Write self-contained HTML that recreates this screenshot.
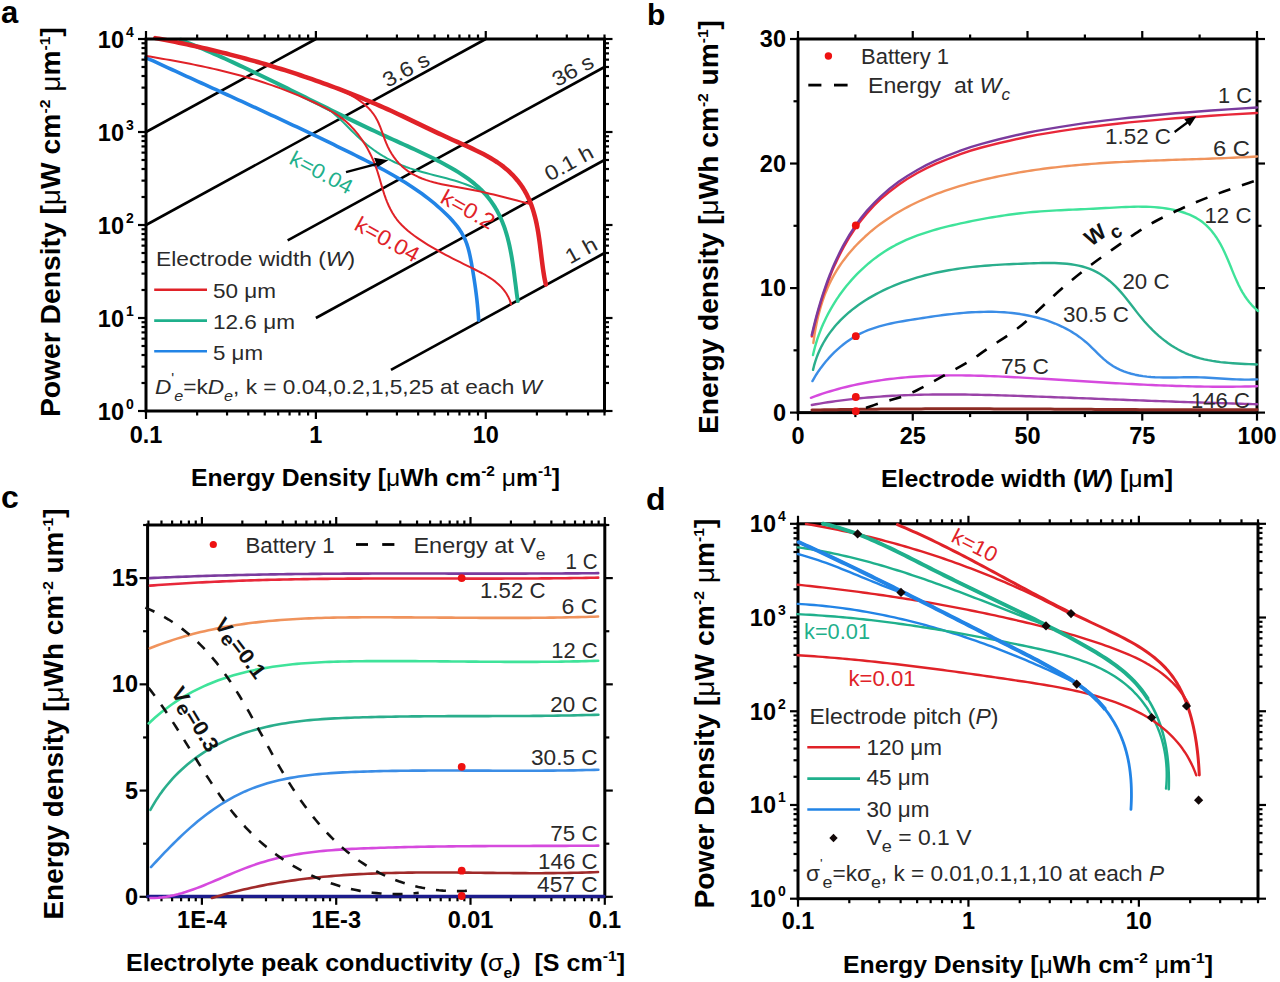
<!DOCTYPE html>
<html><head><meta charset="utf-8"><style>
html,body{margin:0;padding:0;background:#fff;}
svg{display:block;font-family:"Liberation Sans", sans-serif;}
</style></head><body>
<svg width="1280" height="982" viewBox="0 0 1280 982">
<rect width="1280" height="982" fill="#fff"/>
<text x="1.00" y="23.00" font-size="31" font-weight="bold" text-anchor="start" fill="#000"><tspan>a</tspan></text>
<text x="647.00" y="25.00" font-size="30" font-weight="bold" text-anchor="start" fill="#000"><tspan>b</tspan></text>
<text x="1.00" y="507.50" font-size="32" font-weight="bold" text-anchor="start" fill="#000"><tspan>c</tspan></text>
<text x="646.00" y="509.50" font-size="32" font-weight="bold" text-anchor="start" fill="#000"><tspan>d</tspan></text>
<line x1="146.00" y1="132.00" x2="315.88" y2="39.00" stroke="#000" stroke-width="2.6"/>
<line x1="146.00" y1="225.00" x2="485.76" y2="39.00" stroke="#000" stroke-width="2.6"/>
<line x1="287.68" y1="240.44" x2="604.50" y2="67.00" stroke="#000" stroke-width="2.6"/>
<line x1="315.88" y1="318.00" x2="604.50" y2="160.00" stroke="#000" stroke-width="2.6"/>
<line x1="390.97" y1="369.89" x2="604.50" y2="253.00" stroke="#000" stroke-width="2.6"/>
<path d="M145.79,57.56 L149.50,59.28 L153.21,60.99 L156.92,62.70 L160.63,64.40 L164.34,66.11 L168.04,67.81 L171.74,69.50 L175.45,71.20 L179.15,72.89 L182.84,74.58 L186.54,76.27 L190.24,77.95 L193.93,79.64 L197.62,81.32 L201.32,83.00 L205.01,84.68 L208.69,86.36 L212.38,88.04 L216.07,89.72 L219.75,91.40 L223.44,93.08 L227.12,94.76 L230.80,96.44 L234.48,98.12 L238.16,99.80 L241.83,101.49 L245.51,103.17 L249.19,104.86 L252.86,106.54 L256.53,108.23 L260.20,109.92 L263.88,111.62 L267.55,113.31 L271.21,115.01 L274.88,116.71 L278.55,118.42 L282.21,120.12 L285.88,121.83 L289.54,123.55 L293.21,125.27 L296.87,126.99 L300.53,128.72 L304.19,130.45 L307.85,132.18 L311.51,133.92 L315.17,135.67 L318.82,137.42 L322.48,139.17 L326.14,140.94 L329.79,142.70 L333.45,144.48 L337.10,146.26 L340.75,148.04 L344.40,149.83 L348.06,151.63 L351.71,153.44 L355.36,155.25 L359.01,157.08 L362.65,158.91 L366.29,160.76 L369.91,162.62 L373.53,164.50 L377.14,166.40 L380.73,168.32 L384.30,170.27 L387.86,172.24 L391.40,174.24 L394.91,176.27 L398.40,178.33 L401.87,180.43 L405.31,182.56 L408.71,184.73 L412.09,186.94 L415.43,189.19 L418.73,191.49 L422.00,193.83 L425.23,196.22 L428.41,198.66 L431.55,201.16 L434.65,203.71 L437.70,206.31 L440.70,208.98 L443.65,211.71 L446.54,214.50 L449.37,217.35 L452.12,220.28 L454.77,223.31 L457.27,226.43 L459.61,229.66 L461.75,233.01 L463.68,236.50 L465.36,240.13 L466.80,243.90 L468.03,247.79 L469.09,251.75 L470.02,255.78 L470.83,259.85 L471.58,263.92 L472.29,267.98 L472.98,272.02 L473.63,276.04 L474.26,280.04 L474.86,284.04 L475.43,288.03 L475.96,292.02 L476.46,296.01 L476.93,300.01 L477.35,304.01 L477.74,308.03 L478.09,312.07 L478.39,316.12 L478.65,320.21" fill="none" stroke="#2284e6" stroke-width="3.6" stroke-linejoin="round" stroke-linecap="round"/>
<path d="M323.78,106.06 L327.20,108.36 L330.49,110.83 L333.68,113.44 L336.78,116.16 L339.81,118.98 L342.80,121.86 L345.75,124.80 L348.68,127.75 L351.62,130.71 L354.58,133.64 L357.57,136.53 L360.62,139.35 L363.74,142.08 L366.92,144.72 L370.17,147.27 L373.48,149.73 L376.86,152.08 L380.30,154.33 L383.81,156.48 L387.38,158.52 L391.01,160.45 L394.70,162.26 L398.46,163.95 L402.27,165.53 L406.15,166.99 L410.07,168.35 L414.03,169.62 L418.03,170.82 L422.06,171.96 L426.11,173.06 L430.18,174.12 L434.25,175.17 L438.32,176.21 L442.39,177.25 L446.45,178.32 L450.48,179.43 L454.48,180.58 L458.46,181.80 L462.39,183.09 L466.27,184.47 L470.10,185.96 L473.86,187.56 L477.56,189.29 L481.18,191.17 L484.71,193.20 L488.16,195.40" fill="none" stroke="#1fb08c" stroke-width="2" stroke-linejoin="round" stroke-linecap="round"/>
<path d="M180.50,39.70 L184.26,41.21 L188.01,42.74 L191.76,44.28 L195.50,45.84 L199.23,47.41 L202.95,49.00 L206.67,50.60 L210.38,52.22 L214.09,53.84 L217.79,55.48 L221.48,57.14 L225.17,58.80 L228.86,60.48 L232.54,62.16 L236.21,63.86 L239.88,65.57 L243.55,67.28 L247.21,69.01 L250.86,70.74 L254.52,72.48 L258.17,74.23 L261.82,75.98 L265.46,77.74 L269.10,79.51 L272.74,81.28 L276.38,83.05 L280.01,84.83 L283.64,86.62 L287.27,88.41 L290.90,90.20 L294.53,91.99 L298.16,93.78 L301.78,95.58 L305.41,97.38 L309.03,99.18 L312.66,100.97 L316.28,102.77 L319.91,104.57 L323.53,106.36 L327.16,108.15 L330.78,109.94 L334.41,111.73 L338.04,113.51 L341.67,115.29 L345.30,117.06 L348.94,118.83 L352.58,120.60 L356.21,122.36 L359.86,124.11 L363.50,125.85 L367.15,127.59 L370.80,129.32 L374.45,131.04 L378.11,132.75 L381.77,134.45 L385.44,136.15 L389.11,137.83 L392.78,139.50 L396.46,141.17 L400.14,142.83 L403.82,144.50 L407.50,146.17 L411.17,147.84 L414.85,149.53 L418.52,151.24 L422.19,152.96 L425.85,154.71 L429.51,156.49 L433.16,158.29 L436.80,160.13 L440.42,162.01 L444.04,163.93 L447.64,165.89 L451.21,167.91 L454.74,169.99 L458.22,172.12 L461.65,174.32 L465.02,176.60 L468.31,178.95 L471.52,181.38 L474.63,183.90 L477.65,186.51 L480.55,189.22 L483.33,192.03 L485.99,194.95 L488.51,197.98 L490.89,201.12 L493.14,204.35 L495.25,207.69 L497.22,211.12 L499.07,214.64 L500.78,218.24 L502.35,221.92 L503.80,225.68 L505.13,229.50 L506.34,233.37 L507.46,237.30 L508.47,241.27 L509.41,245.27 L510.26,249.29 L511.04,253.34 L511.76,257.39 L512.42,261.46 L513.04,265.52 L513.62,269.57 L514.17,273.62 L514.69,277.64 L515.20,281.64 L515.70,285.61 L516.20,289.55 L516.70,293.44 L517.23,297.28 L517.77,301.06" fill="none" stroke="#1fb08c" stroke-width="4" stroke-linejoin="round" stroke-linecap="round"/>
<path d="M145.89,55.88 L149.92,56.56 L153.94,57.25 L157.95,57.95 L161.96,58.65 L165.97,59.36 L169.98,60.08 L173.98,60.81 L177.98,61.55 L181.97,62.31 L185.96,63.07 L189.95,63.85 L193.93,64.64 L197.91,65.46 L201.88,66.28 L205.84,67.13 L209.80,68.00 L213.76,68.89 L217.71,69.79 L221.65,70.73 L225.59,71.68 L229.52,72.66 L233.44,73.67 L237.36,74.70 L241.27,75.77 L245.17,76.86 L249.07,77.98 L252.96,79.14 L256.84,80.32 L260.71,81.54 L264.57,82.80 L268.43,84.09 L272.28,85.41 L276.11,86.77 L279.94,88.17 L283.75,89.60 L287.55,91.06 L291.34,92.56 L295.11,94.09 L298.87,95.66 L302.61,97.26 L306.33,98.90 L310.04,100.57 L313.73,102.28 L317.40,104.02 L321.05,105.79 L324.67,107.62 L328.24,109.52 L331.75,111.50 L335.18,113.58 L338.52,115.79 L341.76,118.13 L344.89,120.62 L347.89,123.28 L350.77,126.08 L353.52,129.01 L356.16,132.07 L358.68,135.24 L361.09,138.52 L363.38,141.88 L365.56,145.32 L367.62,148.85 L369.55,152.44 L371.37,156.10 L373.06,159.81 L374.62,163.59 L376.05,167.41 L377.36,171.27 L378.57,175.16 L379.73,179.07 L380.86,182.98 L381.98,186.87 L383.15,190.74 L384.38,194.58 L385.71,198.36 L387.16,202.08 L388.74,205.73 L390.47,209.28 L392.36,212.73 L394.44,216.07 L396.72,219.28 L399.21,222.34 L401.91,225.27 L404.80,228.06 L407.85,230.72 L411.03,233.28 L414.31,235.74 L417.66,238.10 L421.05,240.40 L424.48,242.62 L427.94,244.78 L431.42,246.88 L434.93,248.93 L438.46,250.93 L442.02,252.89 L445.60,254.81 L449.20,256.70 L452.82,258.56 L456.46,260.40 L460.12,262.23 L463.79,264.04 L467.47,265.86 L471.17,267.67 L474.87,269.49 L478.54,271.34 L482.17,273.25 L485.72,275.24 L489.17,277.33 L492.49,279.54 L495.65,281.90 L498.63,284.43 L501.40,287.14 L503.93,290.08 L506.20,293.24 L508.18,296.67 L509.84,300.38 L511.16,304.39" fill="none" stroke="#e02228" stroke-width="2" stroke-linejoin="round" stroke-linecap="round"/>
<path d="M321.51,83.13 L325.38,84.44 L329.28,85.81 L333.17,87.26 L337.05,88.78 L340.90,90.39 L344.69,92.11 L348.41,93.93 L352.03,95.86 L355.54,97.93 L358.91,100.13 L362.14,102.48 L365.19,104.99 L368.05,107.65 L370.71,110.50 L373.13,113.53 L375.31,116.75 L377.22,120.17 L378.91,123.77 L380.44,127.49 L381.86,131.31 L383.25,135.17 L384.65,139.05 L386.14,142.89 L387.77,146.65 L389.60,150.30 L391.65,153.80 L393.90,157.16 L396.36,160.35 L399.00,163.35 L401.82,166.16 L404.82,168.76 L407.97,171.14 L411.27,173.29 L414.71,175.22 L418.28,176.96 L421.96,178.52 L425.74,179.91 L429.60,181.16 L433.54,182.28 L437.53,183.30 L441.58,184.21 L445.66,185.05 L449.76,185.84 L453.87,186.58 L457.98,187.29 L462.07,188.00 L466.13,188.72 L470.15,189.47 L474.13,190.24 L478.07,191.05 L481.99,191.89 L485.88,192.76 L489.76,193.66 L493.63,194.58 L497.50,195.52 L501.38,196.49 L505.27,197.48 L509.19,198.48 L513.13,199.51 L517.11,200.55 L521.14,201.60 L525.21,202.67 L529.35,203.75" fill="none" stroke="#e02228" stroke-width="2" stroke-linejoin="round" stroke-linecap="round"/>
<path d="M155.27,38.09 L159.22,38.82 L163.17,39.57 L167.13,40.33 L171.08,41.11 L175.03,41.90 L178.98,42.71 L182.93,43.53 L186.88,44.36 L190.83,45.21 L194.78,46.08 L198.73,46.96 L202.67,47.86 L206.62,48.77 L210.56,49.70 L214.50,50.64 L218.44,51.59 L222.38,52.57 L226.31,53.55 L230.24,54.56 L234.17,55.58 L238.10,56.61 L242.03,57.66 L245.95,58.72 L249.86,59.80 L253.78,60.90 L257.69,62.01 L261.60,63.13 L265.50,64.27 L269.40,65.43 L273.29,66.60 L277.18,67.79 L281.07,69.00 L284.95,70.21 L288.82,71.45 L292.70,72.70 L296.56,73.97 L300.42,75.25 L304.27,76.55 L308.12,77.86 L311.97,79.19 L315.80,80.53 L319.63,81.90 L323.46,83.27 L327.27,84.67 L331.08,86.07 L334.89,87.50 L338.68,88.94 L342.47,90.40 L346.25,91.87 L350.03,93.36 L353.79,94.86 L357.55,96.38 L361.30,97.92 L365.04,99.47 L368.78,101.04 L372.50,102.63 L376.22,104.23 L379.93,105.85 L383.62,107.48 L387.31,109.14 L390.99,110.80 L394.66,112.49 L398.32,114.19 L401.97,115.90 L405.62,117.62 L409.26,119.36 L412.90,121.10 L416.55,122.85 L420.19,124.61 L423.84,126.36 L427.49,128.11 L431.16,129.87 L434.83,131.61 L438.52,133.35 L442.22,135.08 L445.94,136.80 L449.68,138.50 L453.43,140.19 L457.21,141.87 L460.99,143.54 L464.77,145.22 L468.55,146.92 L472.30,148.65 L476.02,150.41 L479.71,152.21 L483.35,154.07 L486.93,155.99 L490.45,157.99 L493.89,160.07 L497.25,162.24 L500.52,164.51 L503.68,166.89 L506.73,169.40 L509.67,172.03 L512.48,174.79 L515.16,177.68 L517.70,180.68 L520.10,183.81 L522.35,187.05 L524.45,190.40 L526.39,193.87 L528.17,197.44 L529.79,201.10 L531.27,204.86 L532.61,208.69 L533.82,212.59 L534.91,216.54 L535.88,220.54 L536.76,224.57 L537.54,228.63 L538.24,232.71 L538.88,236.81 L539.46,240.91 L540.00,245.01 L540.51,249.11 L541.01,253.19 L541.49,257.25 L541.99,261.29 L542.51,265.29 L543.05,269.26 L543.65,273.18 L544.30,277.04 L545.02,280.85 L545.83,284.59" fill="none" stroke="#e02228" stroke-width="4.5" stroke-linejoin="round" stroke-linecap="round"/>
<line x1="346.00" y1="172.10" x2="380.00" y2="163.20" stroke="#000" stroke-width="2.4"/>
<polygon points="388.4,160.2 374.0,157.8 377.6,167.0" fill="#000"/>
<text x="0.00" y="0.00" font-size="21" font-weight="normal" text-anchor="start" fill="#2a2a2a" transform="translate(387.50,88.00) rotate(-28.695450664753416)" textLength="50" lengthAdjust="spacingAndGlyphs"><tspan>3.6 s</tspan></text>
<text x="0.00" y="0.00" font-size="21" font-weight="normal" text-anchor="start" fill="#2a2a2a" transform="translate(556.90,87.30) rotate(-28.695450664753416)" textLength="44" lengthAdjust="spacingAndGlyphs"><tspan>36 s</tspan></text>
<text x="0.00" y="0.00" font-size="21" font-weight="normal" text-anchor="start" fill="#2a2a2a" transform="translate(549.50,181.80) rotate(-28.695450664753416)" textLength="52" lengthAdjust="spacingAndGlyphs"><tspan>0.1 h</tspan></text>
<text x="0.00" y="0.00" font-size="21" font-weight="normal" text-anchor="start" fill="#2a2a2a" transform="translate(570.10,264.50) rotate(-28.695450664753416)" textLength="33" lengthAdjust="spacingAndGlyphs"><tspan>1 h</tspan></text>
<text x="0.00" y="0.00" font-size="21" font-weight="normal" text-anchor="start" fill="#1fb08c" transform="translate(288.00,163.00) rotate(28)" textLength="68" lengthAdjust="spacingAndGlyphs"><tspan>k=0.04</tspan></text>
<text x="0.00" y="0.00" font-size="22" font-weight="normal" text-anchor="start" fill="#e02228" transform="translate(439.00,202.00) rotate(29)" textLength="58" lengthAdjust="spacingAndGlyphs"><tspan>k=0.2</tspan></text>
<text x="0.00" y="0.00" font-size="22" font-weight="normal" text-anchor="start" fill="#e02228" transform="translate(353.00,229.00) rotate(29)" textLength="70" lengthAdjust="spacingAndGlyphs"><tspan>k=0.04</tspan></text>
<text x="156.00" y="266.40" font-size="21" font-weight="normal" text-anchor="start" fill="#2a2a2a" textLength="199" lengthAdjust="spacingAndGlyphs"><tspan>Electrode width (</tspan><tspan font-style="italic">W</tspan><tspan>)</tspan></text>
<line x1="154.20" y1="289.80" x2="207.00" y2="289.80" stroke="#e02228" stroke-width="2.6"/>
<text x="213.00" y="298.10" font-size="21" font-weight="normal" text-anchor="start" fill="#2a2a2a" textLength="63" lengthAdjust="spacingAndGlyphs"><tspan>50 μm</tspan></text>
<line x1="154.20" y1="320.60" x2="207.00" y2="320.60" stroke="#1fb08c" stroke-width="2.6"/>
<text x="213.00" y="328.90" font-size="21" font-weight="normal" text-anchor="start" fill="#2a2a2a" textLength="82" lengthAdjust="spacingAndGlyphs"><tspan>12.6 μm</tspan></text>
<line x1="154.20" y1="351.30" x2="207.00" y2="351.30" stroke="#2284e6" stroke-width="2.6"/>
<text x="213.00" y="359.60" font-size="21" font-weight="normal" text-anchor="start" fill="#2a2a2a" textLength="50" lengthAdjust="spacingAndGlyphs"><tspan>5 μm</tspan></text>
<text x="155.00" y="394.40" font-size="21" font-weight="normal" text-anchor="start" fill="#2a2a2a" textLength="387" lengthAdjust="spacingAndGlyphs"><tspan font-style="italic">D</tspan><tspan dy="-11.00" font-size="14">'</tspan><tspan dy="18.00" font-size="15" font-style="italic">e</tspan><tspan dy="-7.00">=k</tspan><tspan font-style="italic">D</tspan><tspan dy="7.00" font-size="15" font-style="italic">e</tspan><tspan dy="-7.00">, k = 0.04,0.2,1,5,25 at each </tspan><tspan font-style="italic">W</tspan></text>
<line x1="146.00" y1="411.00" x2="146.00" y2="419.00" stroke="#000" stroke-width="2.2"/>
<line x1="146.00" y1="39.00" x2="146.00" y2="31.00" stroke="#000" stroke-width="2.2"/>
<line x1="315.88" y1="411.00" x2="315.88" y2="419.00" stroke="#000" stroke-width="2.2"/>
<line x1="315.88" y1="39.00" x2="315.88" y2="31.00" stroke="#000" stroke-width="2.2"/>
<line x1="485.76" y1="411.00" x2="485.76" y2="419.00" stroke="#000" stroke-width="2.2"/>
<line x1="485.76" y1="39.00" x2="485.76" y2="31.00" stroke="#000" stroke-width="2.2"/>
<line x1="197.14" y1="411.00" x2="197.14" y2="415.50" stroke="#000" stroke-width="2.2"/>
<line x1="197.14" y1="39.00" x2="197.14" y2="34.50" stroke="#000" stroke-width="2.2"/>
<line x1="227.05" y1="411.00" x2="227.05" y2="415.50" stroke="#000" stroke-width="2.2"/>
<line x1="227.05" y1="39.00" x2="227.05" y2="34.50" stroke="#000" stroke-width="2.2"/>
<line x1="248.28" y1="411.00" x2="248.28" y2="415.50" stroke="#000" stroke-width="2.2"/>
<line x1="248.28" y1="39.00" x2="248.28" y2="34.50" stroke="#000" stroke-width="2.2"/>
<line x1="264.74" y1="411.00" x2="264.74" y2="415.50" stroke="#000" stroke-width="2.2"/>
<line x1="264.74" y1="39.00" x2="264.74" y2="34.50" stroke="#000" stroke-width="2.2"/>
<line x1="278.19" y1="411.00" x2="278.19" y2="415.50" stroke="#000" stroke-width="2.2"/>
<line x1="278.19" y1="39.00" x2="278.19" y2="34.50" stroke="#000" stroke-width="2.2"/>
<line x1="289.56" y1="411.00" x2="289.56" y2="415.50" stroke="#000" stroke-width="2.2"/>
<line x1="289.56" y1="39.00" x2="289.56" y2="34.50" stroke="#000" stroke-width="2.2"/>
<line x1="299.42" y1="411.00" x2="299.42" y2="415.50" stroke="#000" stroke-width="2.2"/>
<line x1="299.42" y1="39.00" x2="299.42" y2="34.50" stroke="#000" stroke-width="2.2"/>
<line x1="308.11" y1="411.00" x2="308.11" y2="415.50" stroke="#000" stroke-width="2.2"/>
<line x1="308.11" y1="39.00" x2="308.11" y2="34.50" stroke="#000" stroke-width="2.2"/>
<line x1="367.02" y1="411.00" x2="367.02" y2="415.50" stroke="#000" stroke-width="2.2"/>
<line x1="367.02" y1="39.00" x2="367.02" y2="34.50" stroke="#000" stroke-width="2.2"/>
<line x1="396.93" y1="411.00" x2="396.93" y2="415.50" stroke="#000" stroke-width="2.2"/>
<line x1="396.93" y1="39.00" x2="396.93" y2="34.50" stroke="#000" stroke-width="2.2"/>
<line x1="418.16" y1="411.00" x2="418.16" y2="415.50" stroke="#000" stroke-width="2.2"/>
<line x1="418.16" y1="39.00" x2="418.16" y2="34.50" stroke="#000" stroke-width="2.2"/>
<line x1="434.62" y1="411.00" x2="434.62" y2="415.50" stroke="#000" stroke-width="2.2"/>
<line x1="434.62" y1="39.00" x2="434.62" y2="34.50" stroke="#000" stroke-width="2.2"/>
<line x1="448.07" y1="411.00" x2="448.07" y2="415.50" stroke="#000" stroke-width="2.2"/>
<line x1="448.07" y1="39.00" x2="448.07" y2="34.50" stroke="#000" stroke-width="2.2"/>
<line x1="459.44" y1="411.00" x2="459.44" y2="415.50" stroke="#000" stroke-width="2.2"/>
<line x1="459.44" y1="39.00" x2="459.44" y2="34.50" stroke="#000" stroke-width="2.2"/>
<line x1="469.30" y1="411.00" x2="469.30" y2="415.50" stroke="#000" stroke-width="2.2"/>
<line x1="469.30" y1="39.00" x2="469.30" y2="34.50" stroke="#000" stroke-width="2.2"/>
<line x1="477.99" y1="411.00" x2="477.99" y2="415.50" stroke="#000" stroke-width="2.2"/>
<line x1="477.99" y1="39.00" x2="477.99" y2="34.50" stroke="#000" stroke-width="2.2"/>
<line x1="536.90" y1="411.00" x2="536.90" y2="415.50" stroke="#000" stroke-width="2.2"/>
<line x1="536.90" y1="39.00" x2="536.90" y2="34.50" stroke="#000" stroke-width="2.2"/>
<line x1="566.81" y1="411.00" x2="566.81" y2="415.50" stroke="#000" stroke-width="2.2"/>
<line x1="566.81" y1="39.00" x2="566.81" y2="34.50" stroke="#000" stroke-width="2.2"/>
<line x1="588.04" y1="411.00" x2="588.04" y2="415.50" stroke="#000" stroke-width="2.2"/>
<line x1="588.04" y1="39.00" x2="588.04" y2="34.50" stroke="#000" stroke-width="2.2"/>
<line x1="604.50" y1="411.00" x2="604.50" y2="415.50" stroke="#000" stroke-width="2.2"/>
<line x1="604.50" y1="39.00" x2="604.50" y2="34.50" stroke="#000" stroke-width="2.2"/>
<line x1="146.00" y1="411.00" x2="138.00" y2="411.00" stroke="#000" stroke-width="2.2"/>
<line x1="604.50" y1="411.00" x2="612.50" y2="411.00" stroke="#000" stroke-width="2.2"/>
<line x1="146.00" y1="318.00" x2="138.00" y2="318.00" stroke="#000" stroke-width="2.2"/>
<line x1="604.50" y1="318.00" x2="612.50" y2="318.00" stroke="#000" stroke-width="2.2"/>
<line x1="146.00" y1="225.00" x2="138.00" y2="225.00" stroke="#000" stroke-width="2.2"/>
<line x1="604.50" y1="225.00" x2="612.50" y2="225.00" stroke="#000" stroke-width="2.2"/>
<line x1="146.00" y1="132.00" x2="138.00" y2="132.00" stroke="#000" stroke-width="2.2"/>
<line x1="604.50" y1="132.00" x2="612.50" y2="132.00" stroke="#000" stroke-width="2.2"/>
<line x1="146.00" y1="39.00" x2="138.00" y2="39.00" stroke="#000" stroke-width="2.2"/>
<line x1="604.50" y1="39.00" x2="612.50" y2="39.00" stroke="#000" stroke-width="2.2"/>
<line x1="146.00" y1="383.00" x2="141.50" y2="383.00" stroke="#000" stroke-width="2.2"/>
<line x1="604.50" y1="383.00" x2="609.00" y2="383.00" stroke="#000" stroke-width="2.2"/>
<line x1="146.00" y1="366.63" x2="141.50" y2="366.63" stroke="#000" stroke-width="2.2"/>
<line x1="604.50" y1="366.63" x2="609.00" y2="366.63" stroke="#000" stroke-width="2.2"/>
<line x1="146.00" y1="355.01" x2="141.50" y2="355.01" stroke="#000" stroke-width="2.2"/>
<line x1="604.50" y1="355.01" x2="609.00" y2="355.01" stroke="#000" stroke-width="2.2"/>
<line x1="146.00" y1="346.00" x2="141.50" y2="346.00" stroke="#000" stroke-width="2.2"/>
<line x1="604.50" y1="346.00" x2="609.00" y2="346.00" stroke="#000" stroke-width="2.2"/>
<line x1="146.00" y1="338.63" x2="141.50" y2="338.63" stroke="#000" stroke-width="2.2"/>
<line x1="604.50" y1="338.63" x2="609.00" y2="338.63" stroke="#000" stroke-width="2.2"/>
<line x1="146.00" y1="332.41" x2="141.50" y2="332.41" stroke="#000" stroke-width="2.2"/>
<line x1="604.50" y1="332.41" x2="609.00" y2="332.41" stroke="#000" stroke-width="2.2"/>
<line x1="146.00" y1="327.01" x2="141.50" y2="327.01" stroke="#000" stroke-width="2.2"/>
<line x1="604.50" y1="327.01" x2="609.00" y2="327.01" stroke="#000" stroke-width="2.2"/>
<line x1="146.00" y1="322.26" x2="141.50" y2="322.26" stroke="#000" stroke-width="2.2"/>
<line x1="604.50" y1="322.26" x2="609.00" y2="322.26" stroke="#000" stroke-width="2.2"/>
<line x1="146.00" y1="290.00" x2="141.50" y2="290.00" stroke="#000" stroke-width="2.2"/>
<line x1="604.50" y1="290.00" x2="609.00" y2="290.00" stroke="#000" stroke-width="2.2"/>
<line x1="146.00" y1="273.63" x2="141.50" y2="273.63" stroke="#000" stroke-width="2.2"/>
<line x1="604.50" y1="273.63" x2="609.00" y2="273.63" stroke="#000" stroke-width="2.2"/>
<line x1="146.00" y1="262.01" x2="141.50" y2="262.01" stroke="#000" stroke-width="2.2"/>
<line x1="604.50" y1="262.01" x2="609.00" y2="262.01" stroke="#000" stroke-width="2.2"/>
<line x1="146.00" y1="253.00" x2="141.50" y2="253.00" stroke="#000" stroke-width="2.2"/>
<line x1="604.50" y1="253.00" x2="609.00" y2="253.00" stroke="#000" stroke-width="2.2"/>
<line x1="146.00" y1="245.63" x2="141.50" y2="245.63" stroke="#000" stroke-width="2.2"/>
<line x1="604.50" y1="245.63" x2="609.00" y2="245.63" stroke="#000" stroke-width="2.2"/>
<line x1="146.00" y1="239.41" x2="141.50" y2="239.41" stroke="#000" stroke-width="2.2"/>
<line x1="604.50" y1="239.41" x2="609.00" y2="239.41" stroke="#000" stroke-width="2.2"/>
<line x1="146.00" y1="234.01" x2="141.50" y2="234.01" stroke="#000" stroke-width="2.2"/>
<line x1="604.50" y1="234.01" x2="609.00" y2="234.01" stroke="#000" stroke-width="2.2"/>
<line x1="146.00" y1="229.26" x2="141.50" y2="229.26" stroke="#000" stroke-width="2.2"/>
<line x1="604.50" y1="229.26" x2="609.00" y2="229.26" stroke="#000" stroke-width="2.2"/>
<line x1="146.00" y1="197.00" x2="141.50" y2="197.00" stroke="#000" stroke-width="2.2"/>
<line x1="604.50" y1="197.00" x2="609.00" y2="197.00" stroke="#000" stroke-width="2.2"/>
<line x1="146.00" y1="180.63" x2="141.50" y2="180.63" stroke="#000" stroke-width="2.2"/>
<line x1="604.50" y1="180.63" x2="609.00" y2="180.63" stroke="#000" stroke-width="2.2"/>
<line x1="146.00" y1="169.01" x2="141.50" y2="169.01" stroke="#000" stroke-width="2.2"/>
<line x1="604.50" y1="169.01" x2="609.00" y2="169.01" stroke="#000" stroke-width="2.2"/>
<line x1="146.00" y1="160.00" x2="141.50" y2="160.00" stroke="#000" stroke-width="2.2"/>
<line x1="604.50" y1="160.00" x2="609.00" y2="160.00" stroke="#000" stroke-width="2.2"/>
<line x1="146.00" y1="152.63" x2="141.50" y2="152.63" stroke="#000" stroke-width="2.2"/>
<line x1="604.50" y1="152.63" x2="609.00" y2="152.63" stroke="#000" stroke-width="2.2"/>
<line x1="146.00" y1="146.41" x2="141.50" y2="146.41" stroke="#000" stroke-width="2.2"/>
<line x1="604.50" y1="146.41" x2="609.00" y2="146.41" stroke="#000" stroke-width="2.2"/>
<line x1="146.00" y1="141.01" x2="141.50" y2="141.01" stroke="#000" stroke-width="2.2"/>
<line x1="604.50" y1="141.01" x2="609.00" y2="141.01" stroke="#000" stroke-width="2.2"/>
<line x1="146.00" y1="136.26" x2="141.50" y2="136.26" stroke="#000" stroke-width="2.2"/>
<line x1="604.50" y1="136.26" x2="609.00" y2="136.26" stroke="#000" stroke-width="2.2"/>
<line x1="146.00" y1="104.00" x2="141.50" y2="104.00" stroke="#000" stroke-width="2.2"/>
<line x1="604.50" y1="104.00" x2="609.00" y2="104.00" stroke="#000" stroke-width="2.2"/>
<line x1="146.00" y1="87.63" x2="141.50" y2="87.63" stroke="#000" stroke-width="2.2"/>
<line x1="604.50" y1="87.63" x2="609.00" y2="87.63" stroke="#000" stroke-width="2.2"/>
<line x1="146.00" y1="76.01" x2="141.50" y2="76.01" stroke="#000" stroke-width="2.2"/>
<line x1="604.50" y1="76.01" x2="609.00" y2="76.01" stroke="#000" stroke-width="2.2"/>
<line x1="146.00" y1="67.00" x2="141.50" y2="67.00" stroke="#000" stroke-width="2.2"/>
<line x1="604.50" y1="67.00" x2="609.00" y2="67.00" stroke="#000" stroke-width="2.2"/>
<line x1="146.00" y1="59.63" x2="141.50" y2="59.63" stroke="#000" stroke-width="2.2"/>
<line x1="604.50" y1="59.63" x2="609.00" y2="59.63" stroke="#000" stroke-width="2.2"/>
<line x1="146.00" y1="53.41" x2="141.50" y2="53.41" stroke="#000" stroke-width="2.2"/>
<line x1="604.50" y1="53.41" x2="609.00" y2="53.41" stroke="#000" stroke-width="2.2"/>
<line x1="146.00" y1="48.01" x2="141.50" y2="48.01" stroke="#000" stroke-width="2.2"/>
<line x1="604.50" y1="48.01" x2="609.00" y2="48.01" stroke="#000" stroke-width="2.2"/>
<line x1="146.00" y1="43.26" x2="141.50" y2="43.26" stroke="#000" stroke-width="2.2"/>
<line x1="604.50" y1="43.26" x2="609.00" y2="43.26" stroke="#000" stroke-width="2.2"/>
<rect x="146.00" y="39.00" width="458.50" height="372.00" fill="none" stroke="#000" stroke-width="3.0"/>
<text x="124.00" y="419.50" font-size="23.5" font-weight="bold" text-anchor="end" fill="#000"><tspan>10</tspan></text>
<text x="126.00" y="408.50" font-size="14" font-weight="bold" text-anchor="start" fill="#000"><tspan>0</tspan></text>
<text x="124.00" y="326.50" font-size="23.5" font-weight="bold" text-anchor="end" fill="#000"><tspan>10</tspan></text>
<text x="126.00" y="315.50" font-size="14" font-weight="bold" text-anchor="start" fill="#000"><tspan>1</tspan></text>
<text x="124.00" y="233.50" font-size="23.5" font-weight="bold" text-anchor="end" fill="#000"><tspan>10</tspan></text>
<text x="126.00" y="222.50" font-size="14" font-weight="bold" text-anchor="start" fill="#000"><tspan>2</tspan></text>
<text x="124.00" y="140.50" font-size="23.5" font-weight="bold" text-anchor="end" fill="#000"><tspan>10</tspan></text>
<text x="126.00" y="129.50" font-size="14" font-weight="bold" text-anchor="start" fill="#000"><tspan>3</tspan></text>
<text x="124.00" y="47.50" font-size="23.5" font-weight="bold" text-anchor="end" fill="#000"><tspan>10</tspan></text>
<text x="126.00" y="36.50" font-size="14" font-weight="bold" text-anchor="start" fill="#000"><tspan>4</tspan></text>
<text x="146.00" y="442.50" font-size="23.5" font-weight="bold" text-anchor="middle" fill="#000"><tspan>0.1</tspan></text>
<text x="315.88" y="442.50" font-size="23.5" font-weight="bold" text-anchor="middle" fill="#000"><tspan>1</tspan></text>
<text x="485.76" y="442.50" font-size="23.5" font-weight="bold" text-anchor="middle" fill="#000"><tspan>10</tspan></text>
<text x="191.00" y="486.30" font-size="24" font-weight="bold" text-anchor="start" fill="#000" textLength="369" lengthAdjust="spacingAndGlyphs"><tspan>Energy Density [</tspan><tspan font-weight="normal">μ</tspan><tspan>Wh cm</tspan><tspan dy="-10.00" font-size="15">-2</tspan><tspan dy="10.00"> </tspan><tspan font-weight="normal">μ</tspan><tspan>m</tspan><tspan dy="-10.00" font-size="15">-1</tspan><tspan dy="10.00">]</tspan></text>
<text x="0.00" y="0.00" font-size="27" font-weight="bold" text-anchor="middle" fill="#000" transform="translate(60.00,222.00) rotate(-90)" textLength="390" lengthAdjust="spacingAndGlyphs"><tspan>Power Density [</tspan><tspan font-weight="normal">μ</tspan><tspan>W cm</tspan><tspan dy="-10.00" font-size="15">-2</tspan><tspan dy="10.00"> </tspan><tspan font-weight="normal">μ</tspan><tspan>m</tspan><tspan dy="-10.00" font-size="15">-1</tspan><tspan dy="10.00">]</tspan></text>
<line x1="798.00" y1="412.60" x2="798.00" y2="420.60" stroke="#000" stroke-width="2.2"/>
<line x1="798.00" y1="39.00" x2="798.00" y2="31.00" stroke="#000" stroke-width="2.2"/>
<line x1="912.75" y1="412.60" x2="912.75" y2="420.60" stroke="#000" stroke-width="2.2"/>
<line x1="912.75" y1="39.00" x2="912.75" y2="31.00" stroke="#000" stroke-width="2.2"/>
<line x1="1027.50" y1="412.60" x2="1027.50" y2="420.60" stroke="#000" stroke-width="2.2"/>
<line x1="1027.50" y1="39.00" x2="1027.50" y2="31.00" stroke="#000" stroke-width="2.2"/>
<line x1="1142.25" y1="412.60" x2="1142.25" y2="420.60" stroke="#000" stroke-width="2.2"/>
<line x1="1142.25" y1="39.00" x2="1142.25" y2="31.00" stroke="#000" stroke-width="2.2"/>
<line x1="1257.00" y1="412.60" x2="1257.00" y2="420.60" stroke="#000" stroke-width="2.2"/>
<line x1="1257.00" y1="39.00" x2="1257.00" y2="31.00" stroke="#000" stroke-width="2.2"/>
<line x1="855.38" y1="412.60" x2="855.38" y2="417.10" stroke="#000" stroke-width="2.2"/>
<line x1="855.38" y1="39.00" x2="855.38" y2="34.50" stroke="#000" stroke-width="2.2"/>
<line x1="970.12" y1="412.60" x2="970.12" y2="417.10" stroke="#000" stroke-width="2.2"/>
<line x1="970.12" y1="39.00" x2="970.12" y2="34.50" stroke="#000" stroke-width="2.2"/>
<line x1="1084.88" y1="412.60" x2="1084.88" y2="417.10" stroke="#000" stroke-width="2.2"/>
<line x1="1084.88" y1="39.00" x2="1084.88" y2="34.50" stroke="#000" stroke-width="2.2"/>
<line x1="1199.62" y1="412.60" x2="1199.62" y2="417.10" stroke="#000" stroke-width="2.2"/>
<line x1="1199.62" y1="39.00" x2="1199.62" y2="34.50" stroke="#000" stroke-width="2.2"/>
<line x1="798.00" y1="412.60" x2="790.00" y2="412.60" stroke="#000" stroke-width="2.2"/>
<line x1="1257.00" y1="412.60" x2="1265.00" y2="412.60" stroke="#000" stroke-width="2.2"/>
<line x1="798.00" y1="288.07" x2="790.00" y2="288.07" stroke="#000" stroke-width="2.2"/>
<line x1="1257.00" y1="288.07" x2="1265.00" y2="288.07" stroke="#000" stroke-width="2.2"/>
<line x1="798.00" y1="163.53" x2="790.00" y2="163.53" stroke="#000" stroke-width="2.2"/>
<line x1="1257.00" y1="163.53" x2="1265.00" y2="163.53" stroke="#000" stroke-width="2.2"/>
<line x1="798.00" y1="39.00" x2="790.00" y2="39.00" stroke="#000" stroke-width="2.2"/>
<line x1="1257.00" y1="39.00" x2="1265.00" y2="39.00" stroke="#000" stroke-width="2.2"/>
<line x1="798.00" y1="350.33" x2="793.50" y2="350.33" stroke="#000" stroke-width="2.2"/>
<line x1="1257.00" y1="350.33" x2="1261.50" y2="350.33" stroke="#000" stroke-width="2.2"/>
<line x1="798.00" y1="225.80" x2="793.50" y2="225.80" stroke="#000" stroke-width="2.2"/>
<line x1="1257.00" y1="225.80" x2="1261.50" y2="225.80" stroke="#000" stroke-width="2.2"/>
<line x1="798.00" y1="101.27" x2="793.50" y2="101.27" stroke="#000" stroke-width="2.2"/>
<line x1="1257.00" y1="101.27" x2="1261.50" y2="101.27" stroke="#000" stroke-width="2.2"/>
<rect x="798.00" y="39.00" width="459.00" height="373.60" fill="none" stroke="#000" stroke-width="3.0"/>
<text x="786.00" y="420.60" font-size="23.5" font-weight="bold" text-anchor="end" fill="#000"><tspan>0</tspan></text>
<text x="786.00" y="296.07" font-size="23.5" font-weight="bold" text-anchor="end" fill="#000"><tspan>10</tspan></text>
<text x="786.00" y="171.53" font-size="23.5" font-weight="bold" text-anchor="end" fill="#000"><tspan>20</tspan></text>
<text x="786.00" y="47.00" font-size="23.5" font-weight="bold" text-anchor="end" fill="#000"><tspan>30</tspan></text>
<text x="798.00" y="443.60" font-size="23.5" font-weight="bold" text-anchor="middle" fill="#000"><tspan>0</tspan></text>
<text x="912.75" y="443.60" font-size="23.5" font-weight="bold" text-anchor="middle" fill="#000"><tspan>25</tspan></text>
<text x="1027.50" y="443.60" font-size="23.5" font-weight="bold" text-anchor="middle" fill="#000"><tspan>50</tspan></text>
<text x="1142.25" y="443.60" font-size="23.5" font-weight="bold" text-anchor="middle" fill="#000"><tspan>75</tspan></text>
<text x="1257.00" y="443.60" font-size="23.5" font-weight="bold" text-anchor="middle" fill="#000"><tspan>100</tspan></text>
<text x="881.00" y="487.30" font-size="24" font-weight="bold" text-anchor="start" fill="#000" textLength="292" lengthAdjust="spacingAndGlyphs"><tspan>Electrode width (</tspan><tspan font-style="italic">W</tspan><tspan>) [</tspan><tspan font-weight="normal">μ</tspan><tspan>m]</tspan></text>
<text x="0.00" y="0.00" font-size="27" font-weight="bold" text-anchor="middle" fill="#000" transform="translate(718.00,227.00) rotate(-90)" textLength="414" lengthAdjust="spacingAndGlyphs"><tspan>Energy density [</tspan><tspan font-weight="normal">μ</tspan><tspan>Wh cm</tspan><tspan dy="-10.00" font-size="15">-2</tspan><tspan dy="10.00"> um</tspan><tspan dy="-10.00" font-size="15">-1</tspan><tspan dy="10.00">]</tspan></text>
<line x1="201.90" y1="896.80" x2="201.90" y2="904.80" stroke="#000" stroke-width="2.2"/>
<line x1="201.90" y1="525.00" x2="201.90" y2="517.00" stroke="#000" stroke-width="2.2"/>
<line x1="336.20" y1="896.80" x2="336.20" y2="904.80" stroke="#000" stroke-width="2.2"/>
<line x1="336.20" y1="525.00" x2="336.20" y2="517.00" stroke="#000" stroke-width="2.2"/>
<line x1="470.50" y1="896.80" x2="470.50" y2="904.80" stroke="#000" stroke-width="2.2"/>
<line x1="470.50" y1="525.00" x2="470.50" y2="517.00" stroke="#000" stroke-width="2.2"/>
<line x1="604.80" y1="896.80" x2="604.80" y2="904.80" stroke="#000" stroke-width="2.2"/>
<line x1="604.80" y1="525.00" x2="604.80" y2="517.00" stroke="#000" stroke-width="2.2"/>
<line x1="148.46" y1="896.80" x2="148.46" y2="901.30" stroke="#000" stroke-width="2.2"/>
<line x1="148.46" y1="525.00" x2="148.46" y2="520.50" stroke="#000" stroke-width="2.2"/>
<line x1="161.47" y1="896.80" x2="161.47" y2="901.30" stroke="#000" stroke-width="2.2"/>
<line x1="161.47" y1="525.00" x2="161.47" y2="520.50" stroke="#000" stroke-width="2.2"/>
<line x1="172.11" y1="896.80" x2="172.11" y2="901.30" stroke="#000" stroke-width="2.2"/>
<line x1="172.11" y1="525.00" x2="172.11" y2="520.50" stroke="#000" stroke-width="2.2"/>
<line x1="181.10" y1="896.80" x2="181.10" y2="901.30" stroke="#000" stroke-width="2.2"/>
<line x1="181.10" y1="525.00" x2="181.10" y2="520.50" stroke="#000" stroke-width="2.2"/>
<line x1="188.88" y1="896.80" x2="188.88" y2="901.30" stroke="#000" stroke-width="2.2"/>
<line x1="188.88" y1="525.00" x2="188.88" y2="520.50" stroke="#000" stroke-width="2.2"/>
<line x1="195.75" y1="896.80" x2="195.75" y2="901.30" stroke="#000" stroke-width="2.2"/>
<line x1="195.75" y1="525.00" x2="195.75" y2="520.50" stroke="#000" stroke-width="2.2"/>
<line x1="242.33" y1="896.80" x2="242.33" y2="901.30" stroke="#000" stroke-width="2.2"/>
<line x1="242.33" y1="525.00" x2="242.33" y2="520.50" stroke="#000" stroke-width="2.2"/>
<line x1="265.98" y1="896.80" x2="265.98" y2="901.30" stroke="#000" stroke-width="2.2"/>
<line x1="265.98" y1="525.00" x2="265.98" y2="520.50" stroke="#000" stroke-width="2.2"/>
<line x1="282.76" y1="896.80" x2="282.76" y2="901.30" stroke="#000" stroke-width="2.2"/>
<line x1="282.76" y1="525.00" x2="282.76" y2="520.50" stroke="#000" stroke-width="2.2"/>
<line x1="295.77" y1="896.80" x2="295.77" y2="901.30" stroke="#000" stroke-width="2.2"/>
<line x1="295.77" y1="525.00" x2="295.77" y2="520.50" stroke="#000" stroke-width="2.2"/>
<line x1="306.41" y1="896.80" x2="306.41" y2="901.30" stroke="#000" stroke-width="2.2"/>
<line x1="306.41" y1="525.00" x2="306.41" y2="520.50" stroke="#000" stroke-width="2.2"/>
<line x1="315.40" y1="896.80" x2="315.40" y2="901.30" stroke="#000" stroke-width="2.2"/>
<line x1="315.40" y1="525.00" x2="315.40" y2="520.50" stroke="#000" stroke-width="2.2"/>
<line x1="323.18" y1="896.80" x2="323.18" y2="901.30" stroke="#000" stroke-width="2.2"/>
<line x1="323.18" y1="525.00" x2="323.18" y2="520.50" stroke="#000" stroke-width="2.2"/>
<line x1="330.05" y1="896.80" x2="330.05" y2="901.30" stroke="#000" stroke-width="2.2"/>
<line x1="330.05" y1="525.00" x2="330.05" y2="520.50" stroke="#000" stroke-width="2.2"/>
<line x1="376.63" y1="896.80" x2="376.63" y2="901.30" stroke="#000" stroke-width="2.2"/>
<line x1="376.63" y1="525.00" x2="376.63" y2="520.50" stroke="#000" stroke-width="2.2"/>
<line x1="400.28" y1="896.80" x2="400.28" y2="901.30" stroke="#000" stroke-width="2.2"/>
<line x1="400.28" y1="525.00" x2="400.28" y2="520.50" stroke="#000" stroke-width="2.2"/>
<line x1="417.06" y1="896.80" x2="417.06" y2="901.30" stroke="#000" stroke-width="2.2"/>
<line x1="417.06" y1="525.00" x2="417.06" y2="520.50" stroke="#000" stroke-width="2.2"/>
<line x1="430.07" y1="896.80" x2="430.07" y2="901.30" stroke="#000" stroke-width="2.2"/>
<line x1="430.07" y1="525.00" x2="430.07" y2="520.50" stroke="#000" stroke-width="2.2"/>
<line x1="440.71" y1="896.80" x2="440.71" y2="901.30" stroke="#000" stroke-width="2.2"/>
<line x1="440.71" y1="525.00" x2="440.71" y2="520.50" stroke="#000" stroke-width="2.2"/>
<line x1="449.70" y1="896.80" x2="449.70" y2="901.30" stroke="#000" stroke-width="2.2"/>
<line x1="449.70" y1="525.00" x2="449.70" y2="520.50" stroke="#000" stroke-width="2.2"/>
<line x1="457.48" y1="896.80" x2="457.48" y2="901.30" stroke="#000" stroke-width="2.2"/>
<line x1="457.48" y1="525.00" x2="457.48" y2="520.50" stroke="#000" stroke-width="2.2"/>
<line x1="464.35" y1="896.80" x2="464.35" y2="901.30" stroke="#000" stroke-width="2.2"/>
<line x1="464.35" y1="525.00" x2="464.35" y2="520.50" stroke="#000" stroke-width="2.2"/>
<line x1="510.93" y1="896.80" x2="510.93" y2="901.30" stroke="#000" stroke-width="2.2"/>
<line x1="510.93" y1="525.00" x2="510.93" y2="520.50" stroke="#000" stroke-width="2.2"/>
<line x1="534.58" y1="896.80" x2="534.58" y2="901.30" stroke="#000" stroke-width="2.2"/>
<line x1="534.58" y1="525.00" x2="534.58" y2="520.50" stroke="#000" stroke-width="2.2"/>
<line x1="551.36" y1="896.80" x2="551.36" y2="901.30" stroke="#000" stroke-width="2.2"/>
<line x1="551.36" y1="525.00" x2="551.36" y2="520.50" stroke="#000" stroke-width="2.2"/>
<line x1="564.37" y1="896.80" x2="564.37" y2="901.30" stroke="#000" stroke-width="2.2"/>
<line x1="564.37" y1="525.00" x2="564.37" y2="520.50" stroke="#000" stroke-width="2.2"/>
<line x1="575.01" y1="896.80" x2="575.01" y2="901.30" stroke="#000" stroke-width="2.2"/>
<line x1="575.01" y1="525.00" x2="575.01" y2="520.50" stroke="#000" stroke-width="2.2"/>
<line x1="584.00" y1="896.80" x2="584.00" y2="901.30" stroke="#000" stroke-width="2.2"/>
<line x1="584.00" y1="525.00" x2="584.00" y2="520.50" stroke="#000" stroke-width="2.2"/>
<line x1="591.78" y1="896.80" x2="591.78" y2="901.30" stroke="#000" stroke-width="2.2"/>
<line x1="591.78" y1="525.00" x2="591.78" y2="520.50" stroke="#000" stroke-width="2.2"/>
<line x1="598.65" y1="896.80" x2="598.65" y2="901.30" stroke="#000" stroke-width="2.2"/>
<line x1="598.65" y1="525.00" x2="598.65" y2="520.50" stroke="#000" stroke-width="2.2"/>
<line x1="147.60" y1="896.80" x2="139.60" y2="896.80" stroke="#000" stroke-width="2.2"/>
<line x1="604.80" y1="896.80" x2="612.80" y2="896.80" stroke="#000" stroke-width="2.2"/>
<line x1="147.60" y1="790.57" x2="139.60" y2="790.57" stroke="#000" stroke-width="2.2"/>
<line x1="604.80" y1="790.57" x2="612.80" y2="790.57" stroke="#000" stroke-width="2.2"/>
<line x1="147.60" y1="684.34" x2="139.60" y2="684.34" stroke="#000" stroke-width="2.2"/>
<line x1="604.80" y1="684.34" x2="612.80" y2="684.34" stroke="#000" stroke-width="2.2"/>
<line x1="147.60" y1="578.11" x2="139.60" y2="578.11" stroke="#000" stroke-width="2.2"/>
<line x1="604.80" y1="578.11" x2="612.80" y2="578.11" stroke="#000" stroke-width="2.2"/>
<line x1="147.60" y1="843.69" x2="143.10" y2="843.69" stroke="#000" stroke-width="2.2"/>
<line x1="604.80" y1="843.69" x2="609.30" y2="843.69" stroke="#000" stroke-width="2.2"/>
<line x1="147.60" y1="737.46" x2="143.10" y2="737.46" stroke="#000" stroke-width="2.2"/>
<line x1="604.80" y1="737.46" x2="609.30" y2="737.46" stroke="#000" stroke-width="2.2"/>
<line x1="147.60" y1="631.23" x2="143.10" y2="631.23" stroke="#000" stroke-width="2.2"/>
<line x1="604.80" y1="631.23" x2="609.30" y2="631.23" stroke="#000" stroke-width="2.2"/>
<line x1="147.60" y1="525.00" x2="143.10" y2="525.00" stroke="#000" stroke-width="2.2"/>
<line x1="604.80" y1="525.00" x2="609.30" y2="525.00" stroke="#000" stroke-width="2.2"/>
<rect x="147.60" y="525.00" width="457.20" height="371.80" fill="none" stroke="#000" stroke-width="3.0"/>
<text x="138.00" y="904.80" font-size="23.5" font-weight="bold" text-anchor="end" fill="#000"><tspan>0</tspan></text>
<text x="138.00" y="798.57" font-size="23.5" font-weight="bold" text-anchor="end" fill="#000"><tspan>5</tspan></text>
<text x="138.00" y="692.34" font-size="23.5" font-weight="bold" text-anchor="end" fill="#000"><tspan>10</tspan></text>
<text x="138.00" y="586.11" font-size="23.5" font-weight="bold" text-anchor="end" fill="#000"><tspan>15</tspan></text>
<text x="201.90" y="928.30" font-size="23.5" font-weight="bold" text-anchor="middle" fill="#000"><tspan>1E-4</tspan></text>
<text x="336.20" y="928.30" font-size="23.5" font-weight="bold" text-anchor="middle" fill="#000"><tspan>1E-3</tspan></text>
<text x="470.50" y="928.30" font-size="23.5" font-weight="bold" text-anchor="middle" fill="#000"><tspan>0.01</tspan></text>
<text x="604.80" y="928.30" font-size="23.5" font-weight="bold" text-anchor="middle" fill="#000"><tspan>0.1</tspan></text>
<text x="126.00" y="971.40" font-size="24" font-weight="bold" text-anchor="start" fill="#000" textLength="499" lengthAdjust="spacingAndGlyphs"><tspan>Electrolyte peak conductivity (</tspan><tspan font-weight="normal">σ</tspan><tspan dy="7.00" font-size="15">e</tspan><tspan dy="-7.00">)  [S cm</tspan><tspan dy="-10.00" font-size="15">-1</tspan><tspan dy="10.00">]</tspan></text>
<text x="0.00" y="0.00" font-size="27" font-weight="bold" text-anchor="middle" fill="#000" transform="translate(62.50,714.00) rotate(-90)" textLength="411" lengthAdjust="spacingAndGlyphs"><tspan>Energy density [</tspan><tspan font-weight="normal">μ</tspan><tspan>Wh cm</tspan><tspan dy="-10.00" font-size="15">-2</tspan><tspan dy="10.00"> um</tspan><tspan dy="-10.00" font-size="15">-1</tspan><tspan dy="10.00">]</tspan></text>
<line x1="798.00" y1="898.70" x2="798.00" y2="906.70" stroke="#000" stroke-width="2.2"/>
<line x1="798.00" y1="523.80" x2="798.00" y2="515.80" stroke="#000" stroke-width="2.2"/>
<line x1="968.44" y1="898.70" x2="968.44" y2="906.70" stroke="#000" stroke-width="2.2"/>
<line x1="968.44" y1="523.80" x2="968.44" y2="515.80" stroke="#000" stroke-width="2.2"/>
<line x1="1138.87" y1="898.70" x2="1138.87" y2="906.70" stroke="#000" stroke-width="2.2"/>
<line x1="1138.87" y1="523.80" x2="1138.87" y2="515.80" stroke="#000" stroke-width="2.2"/>
<line x1="849.31" y1="898.70" x2="849.31" y2="903.20" stroke="#000" stroke-width="2.2"/>
<line x1="849.31" y1="523.80" x2="849.31" y2="519.30" stroke="#000" stroke-width="2.2"/>
<line x1="879.32" y1="898.70" x2="879.32" y2="903.20" stroke="#000" stroke-width="2.2"/>
<line x1="879.32" y1="523.80" x2="879.32" y2="519.30" stroke="#000" stroke-width="2.2"/>
<line x1="900.61" y1="898.70" x2="900.61" y2="903.20" stroke="#000" stroke-width="2.2"/>
<line x1="900.61" y1="523.80" x2="900.61" y2="519.30" stroke="#000" stroke-width="2.2"/>
<line x1="917.13" y1="898.70" x2="917.13" y2="903.20" stroke="#000" stroke-width="2.2"/>
<line x1="917.13" y1="523.80" x2="917.13" y2="519.30" stroke="#000" stroke-width="2.2"/>
<line x1="930.62" y1="898.70" x2="930.62" y2="903.20" stroke="#000" stroke-width="2.2"/>
<line x1="930.62" y1="523.80" x2="930.62" y2="519.30" stroke="#000" stroke-width="2.2"/>
<line x1="942.03" y1="898.70" x2="942.03" y2="903.20" stroke="#000" stroke-width="2.2"/>
<line x1="942.03" y1="523.80" x2="942.03" y2="519.30" stroke="#000" stroke-width="2.2"/>
<line x1="951.92" y1="898.70" x2="951.92" y2="903.20" stroke="#000" stroke-width="2.2"/>
<line x1="951.92" y1="523.80" x2="951.92" y2="519.30" stroke="#000" stroke-width="2.2"/>
<line x1="960.64" y1="898.70" x2="960.64" y2="903.20" stroke="#000" stroke-width="2.2"/>
<line x1="960.64" y1="523.80" x2="960.64" y2="519.30" stroke="#000" stroke-width="2.2"/>
<line x1="1019.74" y1="898.70" x2="1019.74" y2="903.20" stroke="#000" stroke-width="2.2"/>
<line x1="1019.74" y1="523.80" x2="1019.74" y2="519.30" stroke="#000" stroke-width="2.2"/>
<line x1="1049.75" y1="898.70" x2="1049.75" y2="903.20" stroke="#000" stroke-width="2.2"/>
<line x1="1049.75" y1="523.80" x2="1049.75" y2="519.30" stroke="#000" stroke-width="2.2"/>
<line x1="1071.05" y1="898.70" x2="1071.05" y2="903.20" stroke="#000" stroke-width="2.2"/>
<line x1="1071.05" y1="523.80" x2="1071.05" y2="519.30" stroke="#000" stroke-width="2.2"/>
<line x1="1087.56" y1="898.70" x2="1087.56" y2="903.20" stroke="#000" stroke-width="2.2"/>
<line x1="1087.56" y1="523.80" x2="1087.56" y2="519.30" stroke="#000" stroke-width="2.2"/>
<line x1="1101.06" y1="898.70" x2="1101.06" y2="903.20" stroke="#000" stroke-width="2.2"/>
<line x1="1101.06" y1="523.80" x2="1101.06" y2="519.30" stroke="#000" stroke-width="2.2"/>
<line x1="1112.47" y1="898.70" x2="1112.47" y2="903.20" stroke="#000" stroke-width="2.2"/>
<line x1="1112.47" y1="523.80" x2="1112.47" y2="519.30" stroke="#000" stroke-width="2.2"/>
<line x1="1122.35" y1="898.70" x2="1122.35" y2="903.20" stroke="#000" stroke-width="2.2"/>
<line x1="1122.35" y1="523.80" x2="1122.35" y2="519.30" stroke="#000" stroke-width="2.2"/>
<line x1="1131.07" y1="898.70" x2="1131.07" y2="903.20" stroke="#000" stroke-width="2.2"/>
<line x1="1131.07" y1="523.80" x2="1131.07" y2="519.30" stroke="#000" stroke-width="2.2"/>
<line x1="1190.18" y1="898.70" x2="1190.18" y2="903.20" stroke="#000" stroke-width="2.2"/>
<line x1="1190.18" y1="523.80" x2="1190.18" y2="519.30" stroke="#000" stroke-width="2.2"/>
<line x1="1220.19" y1="898.70" x2="1220.19" y2="903.20" stroke="#000" stroke-width="2.2"/>
<line x1="1220.19" y1="523.80" x2="1220.19" y2="519.30" stroke="#000" stroke-width="2.2"/>
<line x1="1241.48" y1="898.70" x2="1241.48" y2="903.20" stroke="#000" stroke-width="2.2"/>
<line x1="1241.48" y1="523.80" x2="1241.48" y2="519.30" stroke="#000" stroke-width="2.2"/>
<line x1="1258.00" y1="898.70" x2="1258.00" y2="903.20" stroke="#000" stroke-width="2.2"/>
<line x1="1258.00" y1="523.80" x2="1258.00" y2="519.30" stroke="#000" stroke-width="2.2"/>
<line x1="798.00" y1="898.70" x2="790.00" y2="898.70" stroke="#000" stroke-width="2.2"/>
<line x1="1258.00" y1="898.70" x2="1266.00" y2="898.70" stroke="#000" stroke-width="2.2"/>
<line x1="798.00" y1="804.98" x2="790.00" y2="804.98" stroke="#000" stroke-width="2.2"/>
<line x1="1258.00" y1="804.98" x2="1266.00" y2="804.98" stroke="#000" stroke-width="2.2"/>
<line x1="798.00" y1="711.25" x2="790.00" y2="711.25" stroke="#000" stroke-width="2.2"/>
<line x1="1258.00" y1="711.25" x2="1266.00" y2="711.25" stroke="#000" stroke-width="2.2"/>
<line x1="798.00" y1="617.52" x2="790.00" y2="617.52" stroke="#000" stroke-width="2.2"/>
<line x1="1258.00" y1="617.52" x2="1266.00" y2="617.52" stroke="#000" stroke-width="2.2"/>
<line x1="798.00" y1="523.80" x2="790.00" y2="523.80" stroke="#000" stroke-width="2.2"/>
<line x1="1258.00" y1="523.80" x2="1266.00" y2="523.80" stroke="#000" stroke-width="2.2"/>
<line x1="798.00" y1="870.49" x2="793.50" y2="870.49" stroke="#000" stroke-width="2.2"/>
<line x1="1258.00" y1="870.49" x2="1262.50" y2="870.49" stroke="#000" stroke-width="2.2"/>
<line x1="798.00" y1="853.98" x2="793.50" y2="853.98" stroke="#000" stroke-width="2.2"/>
<line x1="1258.00" y1="853.98" x2="1262.50" y2="853.98" stroke="#000" stroke-width="2.2"/>
<line x1="798.00" y1="842.27" x2="793.50" y2="842.27" stroke="#000" stroke-width="2.2"/>
<line x1="1258.00" y1="842.27" x2="1262.50" y2="842.27" stroke="#000" stroke-width="2.2"/>
<line x1="798.00" y1="833.19" x2="793.50" y2="833.19" stroke="#000" stroke-width="2.2"/>
<line x1="1258.00" y1="833.19" x2="1262.50" y2="833.19" stroke="#000" stroke-width="2.2"/>
<line x1="798.00" y1="825.77" x2="793.50" y2="825.77" stroke="#000" stroke-width="2.2"/>
<line x1="1258.00" y1="825.77" x2="1262.50" y2="825.77" stroke="#000" stroke-width="2.2"/>
<line x1="798.00" y1="819.49" x2="793.50" y2="819.49" stroke="#000" stroke-width="2.2"/>
<line x1="1258.00" y1="819.49" x2="1262.50" y2="819.49" stroke="#000" stroke-width="2.2"/>
<line x1="798.00" y1="814.06" x2="793.50" y2="814.06" stroke="#000" stroke-width="2.2"/>
<line x1="1258.00" y1="814.06" x2="1262.50" y2="814.06" stroke="#000" stroke-width="2.2"/>
<line x1="798.00" y1="809.26" x2="793.50" y2="809.26" stroke="#000" stroke-width="2.2"/>
<line x1="1258.00" y1="809.26" x2="1262.50" y2="809.26" stroke="#000" stroke-width="2.2"/>
<line x1="798.00" y1="776.76" x2="793.50" y2="776.76" stroke="#000" stroke-width="2.2"/>
<line x1="1258.00" y1="776.76" x2="1262.50" y2="776.76" stroke="#000" stroke-width="2.2"/>
<line x1="798.00" y1="760.26" x2="793.50" y2="760.26" stroke="#000" stroke-width="2.2"/>
<line x1="1258.00" y1="760.26" x2="1262.50" y2="760.26" stroke="#000" stroke-width="2.2"/>
<line x1="798.00" y1="748.55" x2="793.50" y2="748.55" stroke="#000" stroke-width="2.2"/>
<line x1="1258.00" y1="748.55" x2="1262.50" y2="748.55" stroke="#000" stroke-width="2.2"/>
<line x1="798.00" y1="739.46" x2="793.50" y2="739.46" stroke="#000" stroke-width="2.2"/>
<line x1="1258.00" y1="739.46" x2="1262.50" y2="739.46" stroke="#000" stroke-width="2.2"/>
<line x1="798.00" y1="732.04" x2="793.50" y2="732.04" stroke="#000" stroke-width="2.2"/>
<line x1="1258.00" y1="732.04" x2="1262.50" y2="732.04" stroke="#000" stroke-width="2.2"/>
<line x1="798.00" y1="725.77" x2="793.50" y2="725.77" stroke="#000" stroke-width="2.2"/>
<line x1="1258.00" y1="725.77" x2="1262.50" y2="725.77" stroke="#000" stroke-width="2.2"/>
<line x1="798.00" y1="720.33" x2="793.50" y2="720.33" stroke="#000" stroke-width="2.2"/>
<line x1="1258.00" y1="720.33" x2="1262.50" y2="720.33" stroke="#000" stroke-width="2.2"/>
<line x1="798.00" y1="715.54" x2="793.50" y2="715.54" stroke="#000" stroke-width="2.2"/>
<line x1="1258.00" y1="715.54" x2="1262.50" y2="715.54" stroke="#000" stroke-width="2.2"/>
<line x1="798.00" y1="683.04" x2="793.50" y2="683.04" stroke="#000" stroke-width="2.2"/>
<line x1="1258.00" y1="683.04" x2="1262.50" y2="683.04" stroke="#000" stroke-width="2.2"/>
<line x1="798.00" y1="666.53" x2="793.50" y2="666.53" stroke="#000" stroke-width="2.2"/>
<line x1="1258.00" y1="666.53" x2="1262.50" y2="666.53" stroke="#000" stroke-width="2.2"/>
<line x1="798.00" y1="654.82" x2="793.50" y2="654.82" stroke="#000" stroke-width="2.2"/>
<line x1="1258.00" y1="654.82" x2="1262.50" y2="654.82" stroke="#000" stroke-width="2.2"/>
<line x1="798.00" y1="645.74" x2="793.50" y2="645.74" stroke="#000" stroke-width="2.2"/>
<line x1="1258.00" y1="645.74" x2="1262.50" y2="645.74" stroke="#000" stroke-width="2.2"/>
<line x1="798.00" y1="638.32" x2="793.50" y2="638.32" stroke="#000" stroke-width="2.2"/>
<line x1="1258.00" y1="638.32" x2="1262.50" y2="638.32" stroke="#000" stroke-width="2.2"/>
<line x1="798.00" y1="632.04" x2="793.50" y2="632.04" stroke="#000" stroke-width="2.2"/>
<line x1="1258.00" y1="632.04" x2="1262.50" y2="632.04" stroke="#000" stroke-width="2.2"/>
<line x1="798.00" y1="626.61" x2="793.50" y2="626.61" stroke="#000" stroke-width="2.2"/>
<line x1="1258.00" y1="626.61" x2="1262.50" y2="626.61" stroke="#000" stroke-width="2.2"/>
<line x1="798.00" y1="621.81" x2="793.50" y2="621.81" stroke="#000" stroke-width="2.2"/>
<line x1="1258.00" y1="621.81" x2="1262.50" y2="621.81" stroke="#000" stroke-width="2.2"/>
<line x1="798.00" y1="589.31" x2="793.50" y2="589.31" stroke="#000" stroke-width="2.2"/>
<line x1="1258.00" y1="589.31" x2="1262.50" y2="589.31" stroke="#000" stroke-width="2.2"/>
<line x1="798.00" y1="572.81" x2="793.50" y2="572.81" stroke="#000" stroke-width="2.2"/>
<line x1="1258.00" y1="572.81" x2="1262.50" y2="572.81" stroke="#000" stroke-width="2.2"/>
<line x1="798.00" y1="561.10" x2="793.50" y2="561.10" stroke="#000" stroke-width="2.2"/>
<line x1="1258.00" y1="561.10" x2="1262.50" y2="561.10" stroke="#000" stroke-width="2.2"/>
<line x1="798.00" y1="552.01" x2="793.50" y2="552.01" stroke="#000" stroke-width="2.2"/>
<line x1="1258.00" y1="552.01" x2="1262.50" y2="552.01" stroke="#000" stroke-width="2.2"/>
<line x1="798.00" y1="544.59" x2="793.50" y2="544.59" stroke="#000" stroke-width="2.2"/>
<line x1="1258.00" y1="544.59" x2="1262.50" y2="544.59" stroke="#000" stroke-width="2.2"/>
<line x1="798.00" y1="538.32" x2="793.50" y2="538.32" stroke="#000" stroke-width="2.2"/>
<line x1="1258.00" y1="538.32" x2="1262.50" y2="538.32" stroke="#000" stroke-width="2.2"/>
<line x1="798.00" y1="532.88" x2="793.50" y2="532.88" stroke="#000" stroke-width="2.2"/>
<line x1="1258.00" y1="532.88" x2="1262.50" y2="532.88" stroke="#000" stroke-width="2.2"/>
<line x1="798.00" y1="528.09" x2="793.50" y2="528.09" stroke="#000" stroke-width="2.2"/>
<line x1="1258.00" y1="528.09" x2="1262.50" y2="528.09" stroke="#000" stroke-width="2.2"/>
<rect x="798.00" y="523.80" width="460.00" height="374.90" fill="none" stroke="#000" stroke-width="3.0"/>
<text x="776.00" y="907.20" font-size="23.5" font-weight="bold" text-anchor="end" fill="#000"><tspan>10</tspan></text>
<text x="778.00" y="896.20" font-size="14" font-weight="bold" text-anchor="start" fill="#000"><tspan>0</tspan></text>
<text x="776.00" y="813.48" font-size="23.5" font-weight="bold" text-anchor="end" fill="#000"><tspan>10</tspan></text>
<text x="778.00" y="802.48" font-size="14" font-weight="bold" text-anchor="start" fill="#000"><tspan>1</tspan></text>
<text x="776.00" y="719.75" font-size="23.5" font-weight="bold" text-anchor="end" fill="#000"><tspan>10</tspan></text>
<text x="778.00" y="708.75" font-size="14" font-weight="bold" text-anchor="start" fill="#000"><tspan>2</tspan></text>
<text x="776.00" y="626.02" font-size="23.5" font-weight="bold" text-anchor="end" fill="#000"><tspan>10</tspan></text>
<text x="778.00" y="615.02" font-size="14" font-weight="bold" text-anchor="start" fill="#000"><tspan>3</tspan></text>
<text x="776.00" y="532.30" font-size="23.5" font-weight="bold" text-anchor="end" fill="#000"><tspan>10</tspan></text>
<text x="778.00" y="521.30" font-size="14" font-weight="bold" text-anchor="start" fill="#000"><tspan>4</tspan></text>
<text x="798.00" y="929.30" font-size="23.5" font-weight="bold" text-anchor="middle" fill="#000"><tspan>0.1</tspan></text>
<text x="968.44" y="929.30" font-size="23.5" font-weight="bold" text-anchor="middle" fill="#000"><tspan>1</tspan></text>
<text x="1138.87" y="929.30" font-size="23.5" font-weight="bold" text-anchor="middle" fill="#000"><tspan>10</tspan></text>
<text x="843.00" y="973.10" font-size="24" font-weight="bold" text-anchor="start" fill="#000" textLength="370" lengthAdjust="spacingAndGlyphs"><tspan>Energy Density [</tspan><tspan font-weight="normal">μ</tspan><tspan>Wh cm</tspan><tspan dy="-10.00" font-size="15">-2</tspan><tspan dy="10.00"> </tspan><tspan font-weight="normal">μ</tspan><tspan>m</tspan><tspan dy="-10.00" font-size="15">-1</tspan><tspan dy="10.00">]</tspan></text>
<text x="0.00" y="0.00" font-size="27" font-weight="bold" text-anchor="middle" fill="#000" transform="translate(714.00,713.50) rotate(-90)" textLength="390" lengthAdjust="spacingAndGlyphs"><tspan>Power Density [</tspan><tspan font-weight="normal">μ</tspan><tspan>W cm</tspan><tspan dy="-10.00" font-size="15">-2</tspan><tspan dy="10.00"> </tspan><tspan font-weight="normal">μ</tspan><tspan>m</tspan><tspan dy="-10.00" font-size="15">-1</tspan><tspan dy="10.00">]</tspan></text>
<path d="M811.98,410.09 L816.02,410.01 L820.07,409.94 L824.11,409.86 L828.16,409.79 L832.20,409.72 L836.25,409.66 L840.29,409.60 L844.34,409.54 L848.38,409.48 L852.43,409.43 L856.47,409.38 L860.52,409.33 L864.56,409.28 L868.61,409.24 L872.65,409.20 L876.70,409.16 L880.74,409.12 L884.79,409.09 L888.83,409.06 L892.88,409.03 L896.92,409.00 L900.97,408.98 L905.01,408.95 L909.06,408.93 L913.10,408.91 L917.15,408.90 L921.20,408.88 L925.24,408.87 L929.29,408.86 L933.33,408.85 L937.38,408.84 L941.42,408.83 L945.47,408.83 L949.51,408.82 L953.56,408.82 L957.61,408.82 L961.65,408.82 L965.70,408.82 L969.74,408.83 L973.79,408.83 L977.84,408.84 L981.88,408.85 L985.93,408.86 L989.97,408.87 L994.02,408.88 L998.06,408.89 L1002.11,408.90 L1006.16,408.92 L1010.20,408.93 L1014.25,408.95 L1018.29,408.97 L1022.34,408.98 L1026.39,409.00 L1030.43,409.02 L1034.48,409.04 L1038.52,409.06 L1042.57,409.08 L1046.62,409.10 L1050.66,409.12 L1054.71,409.15 L1058.75,409.17 L1062.80,409.19 L1066.85,409.21 L1070.89,409.24 L1074.94,409.26 L1078.98,409.29 L1083.03,409.31 L1087.08,409.33 L1091.12,409.36 L1095.17,409.38 L1099.21,409.40 L1103.26,409.43 L1107.31,409.45 L1111.35,409.48 L1115.40,409.50 L1119.44,409.52 L1123.49,409.54 L1127.54,409.57 L1131.58,409.59 L1135.63,409.61 L1139.67,409.63 L1143.72,409.65 L1147.76,409.67 L1151.81,409.69 L1155.86,409.71 L1159.90,409.72 L1163.95,409.74 L1167.99,409.76 L1172.04,409.77 L1176.09,409.78 L1180.13,409.80 L1184.18,409.81 L1188.22,409.82 L1192.27,409.83 L1196.31,409.84 L1200.36,409.85 L1204.41,409.85 L1208.45,409.86 L1212.50,409.86 L1216.54,409.86 L1220.59,409.86 L1224.63,409.86 L1228.68,409.86 L1232.72,409.86 L1236.77,409.85 L1240.81,409.84 L1244.86,409.84 L1248.91,409.82 L1252.95,409.81 L1257.00,409.80" fill="none" stroke="#8b2a22" stroke-width="3" stroke-linejoin="round" stroke-linecap="round"/>
<path d="M811.83,404.97 L815.82,404.26 L819.82,403.57 L823.81,402.92 L827.82,402.29 L831.82,401.70 L835.83,401.13 L839.83,400.59 L843.85,400.07 L847.86,399.58 L851.88,399.12 L855.90,398.69 L859.92,398.28 L863.94,397.89 L867.97,397.53 L872.00,397.19 L876.03,396.87 L880.06,396.58 L884.09,396.31 L888.13,396.05 L892.17,395.82 L896.20,395.61 L900.25,395.42 L904.29,395.25 L908.33,395.09 L912.38,394.96 L916.43,394.84 L920.47,394.74 L924.52,394.65 L928.57,394.58 L932.63,394.52 L936.68,394.48 L940.73,394.46 L944.79,394.44 L948.84,394.44 L952.90,394.46 L956.96,394.48 L961.02,394.51 L965.07,394.56 L969.13,394.62 L973.19,394.68 L977.25,394.76 L981.31,394.84 L985.37,394.93 L989.43,395.03 L993.49,395.14 L997.55,395.25 L1001.61,395.37 L1005.68,395.50 L1009.74,395.62 L1013.80,395.76 L1017.86,395.89 L1021.92,396.03 L1025.97,396.18 L1030.03,396.32 L1034.09,396.47 L1038.15,396.61 L1042.20,396.76 L1046.26,396.91 L1050.32,397.06 L1054.37,397.21 L1058.43,397.36 L1062.48,397.51 L1066.53,397.66 L1070.59,397.81 L1074.64,397.96 L1078.69,398.12 L1082.74,398.27 L1086.79,398.42 L1090.85,398.57 L1094.90,398.73 L1098.95,398.88 L1103.00,399.03 L1107.05,399.18 L1111.10,399.34 L1115.15,399.49 L1119.20,399.64 L1123.25,399.79 L1127.30,399.94 L1131.35,400.09 L1135.40,400.24 L1139.45,400.39 L1143.50,400.54 L1147.55,400.69 L1151.60,400.83 L1155.65,400.98 L1159.70,401.13 L1163.75,401.27 L1167.80,401.41 L1171.85,401.56 L1175.90,401.70 L1179.95,401.84 L1184.01,401.98 L1188.06,402.11 L1192.11,402.25 L1196.16,402.39 L1200.22,402.52 L1204.27,402.65 L1208.33,402.78 L1212.38,402.91 L1216.44,403.04 L1220.49,403.16 L1224.55,403.29 L1228.61,403.41 L1232.67,403.53 L1236.73,403.65 L1240.79,403.76 L1244.85,403.88 L1248.91,403.99 L1252.97,404.10 L1257.04,404.21" fill="none" stroke="#9a43a8" stroke-width="2.4" stroke-linejoin="round" stroke-linecap="round"/>
<path d="M810.90,397.79 L814.77,396.37 L818.66,395.00 L822.55,393.70 L826.44,392.45 L830.35,391.25 L834.26,390.10 L838.17,389.01 L842.10,387.96 L846.03,386.97 L849.96,386.03 L853.90,385.13 L857.85,384.28 L861.80,383.48 L865.76,382.72 L869.72,382.00 L873.68,381.33 L877.66,380.70 L881.63,380.11 L885.62,379.56 L889.60,379.05 L893.59,378.58 L897.59,378.15 L901.58,377.75 L905.59,377.39 L909.59,377.06 L913.60,376.76 L917.61,376.49 L921.63,376.26 L925.65,376.06 L929.67,375.88 L933.70,375.74 L937.73,375.62 L941.76,375.53 L945.79,375.46 L949.82,375.41 L953.86,375.39 L957.90,375.40 L961.94,375.42 L965.98,375.46 L970.03,375.53 L974.07,375.61 L978.12,375.70 L982.16,375.82 L986.21,375.95 L990.26,376.09 L994.31,376.25 L998.36,376.42 L1002.41,376.60 L1006.46,376.79 L1010.51,376.99 L1014.56,377.20 L1018.61,377.42 L1022.66,377.64 L1026.71,377.87 L1030.76,378.10 L1034.81,378.34 L1038.85,378.58 L1042.90,378.82 L1046.94,379.06 L1050.99,379.31 L1055.03,379.55 L1059.07,379.80 L1063.12,380.05 L1067.16,380.30 L1071.20,380.55 L1075.24,380.79 L1079.28,381.04 L1083.31,381.29 L1087.35,381.54 L1091.39,381.78 L1095.43,382.02 L1099.47,382.26 L1103.50,382.50 L1107.54,382.73 L1111.57,382.96 L1115.61,383.19 L1119.65,383.41 L1123.68,383.63 L1127.72,383.85 L1131.75,384.06 L1135.79,384.26 L1139.82,384.46 L1143.86,384.65 L1147.89,384.84 L1151.93,385.02 L1155.96,385.19 L1160.00,385.36 L1164.03,385.51 L1168.07,385.66 L1172.11,385.80 L1176.14,385.94 L1180.18,386.06 L1184.22,386.17 L1188.26,386.28 L1192.29,386.37 L1196.33,386.46 L1200.37,386.53 L1204.41,386.59 L1208.45,386.64 L1212.50,386.68 L1216.54,386.71 L1220.58,386.72 L1224.62,386.73 L1228.67,386.71 L1232.71,386.69 L1236.76,386.65 L1240.81,386.60 L1244.85,386.53 L1248.90,386.45 L1252.95,386.35 L1257.00,386.24" fill="none" stroke="#d64ade" stroke-width="2.4" stroke-linejoin="round" stroke-linecap="round"/>
<path d="M812.44,381.11 L814.31,377.80 L816.33,374.49 L818.49,371.20 L820.80,367.93 L823.25,364.71 L825.82,361.54 L828.51,358.43 L831.32,355.40 L834.24,352.46 L837.26,349.61 L840.38,346.87 L843.58,344.26 L846.87,341.78 L850.24,339.45 L853.67,337.27 L857.17,335.27 L860.73,333.43 L864.34,331.75 L868.00,330.22 L871.72,328.83 L875.47,327.56 L879.27,326.40 L883.11,325.35 L886.98,324.39 L890.89,323.50 L894.82,322.69 L898.78,321.93 L902.75,321.21 L906.75,320.53 L910.76,319.87 L914.79,319.22 L918.82,318.58 L922.86,317.94 L926.91,317.33 L930.97,316.72 L935.04,316.14 L939.10,315.58 L943.18,315.05 L947.25,314.54 L951.33,314.07 L955.41,313.63 L959.49,313.23 L963.57,312.88 L967.65,312.57 L971.72,312.30 L975.80,312.09 L979.86,311.93 L983.93,311.83 L987.98,311.80 L992.04,311.82 L996.08,311.91 L1000.11,312.08 L1004.14,312.31 L1008.15,312.63 L1012.15,313.02 L1016.14,313.50 L1020.12,314.06 L1024.08,314.71 L1028.03,315.46 L1031.96,316.30 L1035.88,317.24 L1039.77,318.28 L1043.64,319.42 L1047.48,320.67 L1051.27,322.04 L1055.03,323.51 L1058.74,325.10 L1062.39,326.80 L1065.99,328.63 L1069.52,330.57 L1072.98,332.65 L1076.37,334.84 L1079.68,337.17 L1082.90,339.63 L1086.04,342.23 L1089.07,344.96 L1092.04,347.79 L1094.96,350.67 L1097.87,353.54 L1100.79,356.37 L1103.77,359.10 L1106.82,361.67 L1109.98,364.05 L1113.27,366.20 L1116.67,368.12 L1120.19,369.83 L1123.80,371.33 L1127.50,372.64 L1131.28,373.76 L1135.12,374.71 L1139.03,375.48 L1142.98,376.11 L1146.98,376.60 L1151.03,376.96 L1155.10,377.22 L1159.21,377.38 L1163.33,377.47 L1167.47,377.50 L1171.63,377.49 L1175.78,377.44 L1179.94,377.38 L1184.09,377.32 L1188.22,377.28 L1192.34,377.27 L1196.43,377.31 L1200.49,377.41 L1204.53,377.56 L1208.54,377.75 L1212.54,377.98 L1216.53,378.23 L1220.52,378.48 L1224.51,378.74 L1228.51,378.98 L1232.52,379.20 L1236.55,379.38 L1240.61,379.52 L1244.69,379.60 L1248.81,379.61 L1252.98,379.54 L1257.19,379.38" fill="none" stroke="#3b8de6" stroke-width="2.4" stroke-linejoin="round" stroke-linecap="round"/>
<path d="M813.04,369.87 L814.06,365.69 L815.25,361.61 L816.59,357.64 L818.09,353.77 L819.73,350.00 L821.51,346.32 L823.44,342.75 L825.49,339.27 L827.67,335.89 L829.97,332.61 L832.40,329.42 L834.93,326.32 L837.58,323.32 L840.33,320.41 L843.17,317.59 L846.12,314.85 L849.15,312.21 L852.26,309.65 L855.46,307.18 L858.73,304.80 L862.07,302.49 L865.48,300.28 L868.95,298.14 L872.48,296.09 L876.05,294.11 L879.68,292.22 L883.34,290.40 L887.04,288.66 L890.78,287.00 L894.54,285.41 L898.33,283.90 L902.13,282.46 L905.95,281.09 L909.78,279.79 L913.62,278.57 L917.47,277.40 L921.34,276.30 L925.22,275.27 L929.11,274.29 L933.01,273.37 L936.92,272.51 L940.84,271.70 L944.78,270.95 L948.72,270.24 L952.68,269.58 L956.65,268.97 L960.62,268.40 L964.61,267.87 L968.61,267.38 L972.62,266.93 L976.64,266.51 L980.67,266.13 L984.72,265.78 L988.77,265.46 L992.83,265.16 L996.90,264.90 L1000.98,264.65 L1005.07,264.42 L1009.17,264.22 L1013.28,264.03 L1017.40,263.85 L1021.52,263.69 L1025.66,263.54 L1029.81,263.40 L1033.96,263.26 L1038.12,263.14 L1042.28,263.04 L1046.44,262.99 L1050.57,262.98 L1054.69,263.05 L1058.78,263.19 L1062.84,263.43 L1066.86,263.78 L1070.83,264.25 L1074.74,264.85 L1078.60,265.60 L1082.39,266.52 L1086.11,267.61 L1089.75,268.89 L1093.30,270.38 L1096.76,272.09 L1100.12,274.01 L1103.39,276.14 L1106.57,278.46 L1109.66,280.95 L1112.66,283.60 L1115.57,286.40 L1118.40,289.33 L1121.14,292.37 L1123.81,295.50 L1126.42,298.71 L1128.99,301.98 L1131.53,305.27 L1134.06,308.58 L1136.61,311.87 L1139.18,315.13 L1141.80,318.33 L1144.47,321.46 L1147.21,324.50 L1150.00,327.47 L1152.86,330.34 L1155.78,333.12 L1158.77,335.80 L1161.82,338.38 L1164.95,340.84 L1168.14,343.19 L1171.41,345.42 L1174.75,347.53 L1178.17,349.50 L1181.66,351.34 L1185.23,353.04 L1188.89,354.59 L1192.62,355.99 L1196.43,357.24 L1200.32,358.34 L1204.27,359.31 L1208.27,360.16 L1212.31,360.89 L1216.39,361.53 L1220.49,362.07 L1224.61,362.52 L1228.73,362.91 L1232.85,363.23 L1236.95,363.51 L1241.03,363.74 L1245.07,363.95 L1249.07,364.13 L1253.02,364.30 L1256.90,364.48" fill="none" stroke="#2aae8c" stroke-width="2.4" stroke-linejoin="round" stroke-linecap="round"/>
<path d="M812.99,355.01 L813.90,351.08 L814.91,347.18 L816.03,343.30 L817.24,339.44 L818.54,335.62 L819.95,331.82 L821.44,328.06 L823.03,324.34 L824.71,320.65 L826.48,317.00 L828.34,313.39 L830.28,309.83 L832.31,306.32 L834.43,302.85 L836.62,299.43 L838.89,296.07 L841.25,292.76 L843.68,289.51 L846.19,286.32 L848.77,283.19 L851.42,280.12 L854.15,277.13 L856.95,274.20 L859.81,271.34 L862.74,268.55 L865.74,265.84 L868.80,263.20 L871.93,260.65 L875.11,258.17 L878.36,255.79 L881.66,253.48 L885.02,251.27 L888.44,249.14 L891.90,247.11 L895.42,245.18 L899.00,243.34 L902.61,241.59 L906.28,239.93 L909.98,238.35 L913.72,236.85 L917.50,235.42 L921.32,234.06 L925.16,232.77 L929.03,231.55 L932.92,230.37 L936.84,229.26 L940.77,228.19 L944.72,227.17 L948.69,226.18 L952.66,225.24 L956.64,224.32 L960.63,223.44 L964.61,222.57 L968.60,221.73 L972.59,220.92 L976.58,220.13 L980.57,219.37 L984.56,218.63 L988.56,217.92 L992.55,217.23 L996.55,216.58 L1000.55,215.95 L1004.55,215.36 L1008.55,214.79 L1012.55,214.25 L1016.56,213.75 L1020.57,213.27 L1024.57,212.83 L1028.59,212.42 L1032.60,212.05 L1036.62,211.71 L1040.63,211.40 L1044.65,211.11 L1048.68,210.85 L1052.70,210.61 L1056.73,210.39 L1060.77,210.18 L1064.80,209.99 L1068.84,209.80 L1072.89,209.62 L1076.93,209.45 L1080.99,209.27 L1085.04,209.09 L1089.10,208.91 L1093.17,208.72 L1097.24,208.52 L1101.32,208.30 L1105.40,208.07 L1109.48,207.83 L1113.57,207.59 L1117.66,207.36 L1121.75,207.16 L1125.84,206.97 L1129.92,206.83 L1134.00,206.72 L1138.07,206.67 L1142.14,206.68 L1146.19,206.76 L1150.24,206.91 L1154.28,207.16 L1158.30,207.49 L1162.31,207.93 L1166.30,208.48 L1170.28,209.16 L1174.24,209.96 L1178.16,210.90 L1182.04,211.99 L1185.84,213.26 L1189.54,214.70 L1193.14,216.34 L1196.61,218.18 L1199.93,220.24 L1203.08,222.54 L1206.05,225.08 L1208.84,227.84 L1211.46,230.79 L1213.92,233.93 L1216.24,237.22 L1218.41,240.64 L1220.46,244.17 L1222.38,247.79 L1224.19,251.48 L1225.90,255.21 L1227.53,258.98 L1229.12,262.77 L1230.67,266.56 L1232.21,270.35 L1233.76,274.13 L1235.35,277.88 L1237.00,281.58 L1238.72,285.23 L1240.55,288.82 L1242.50,292.32 L1244.60,295.74 L1246.87,299.05 L1249.33,302.24 L1252.00,305.30 L1254.91,308.22 L1258.07,310.99" fill="none" stroke="#3fe39a" stroke-width="2.4" stroke-linejoin="round" stroke-linecap="round"/>
<path d="M813.37,342.96 L813.90,338.95 L814.49,334.93 L815.14,330.92 L815.87,326.92 L816.66,322.94 L817.53,318.97 L818.48,315.02 L819.50,311.09 L820.60,307.19 L821.79,303.32 L823.07,299.48 L824.44,295.68 L825.89,291.92 L827.45,288.20 L829.10,284.53 L830.85,280.91 L832.71,277.35 L834.67,273.84 L836.74,270.39 L838.90,267.00 L841.16,263.67 L843.50,260.40 L845.94,257.19 L848.46,254.04 L851.06,250.96 L853.73,247.93 L856.48,244.98 L859.30,242.09 L862.19,239.27 L865.13,236.51 L868.14,233.82 L871.20,231.20 L874.31,228.66 L877.47,226.18 L880.68,223.77 L883.93,221.43 L887.23,219.16 L890.57,216.95 L893.95,214.81 L897.37,212.73 L900.83,210.72 L904.32,208.77 L907.85,206.87 L911.41,205.04 L915.01,203.26 L918.64,201.54 L922.29,199.87 L925.98,198.26 L929.69,196.69 L933.43,195.18 L937.19,193.72 L940.98,192.31 L944.79,190.95 L948.62,189.63 L952.46,188.36 L956.33,187.13 L960.21,185.94 L964.10,184.80 L968.01,183.69 L971.93,182.62 L975.86,181.59 L979.80,180.60 L983.75,179.64 L987.71,178.72 L991.67,177.82 L995.63,176.96 L999.60,176.13 L1003.57,175.33 L1007.54,174.56 L1011.51,173.81 L1015.49,173.10 L1019.47,172.41 L1023.46,171.75 L1027.44,171.11 L1031.43,170.50 L1035.42,169.91 L1039.41,169.35 L1043.41,168.80 L1047.41,168.29 L1051.41,167.79 L1055.41,167.32 L1059.41,166.86 L1063.42,166.43 L1067.43,166.01 L1071.44,165.62 L1075.45,165.24 L1079.47,164.88 L1083.48,164.54 L1087.50,164.21 L1091.52,163.90 L1095.54,163.60 L1099.56,163.32 L1103.59,163.05 L1107.61,162.79 L1111.64,162.55 L1115.67,162.31 L1119.70,162.09 L1123.73,161.88 L1127.76,161.68 L1131.79,161.49 L1135.82,161.30 L1139.86,161.13 L1143.89,160.96 L1147.93,160.80 L1151.97,160.64 L1156.01,160.49 L1160.04,160.34 L1164.08,160.20 L1168.12,160.06 L1172.16,159.92 L1176.20,159.79 L1180.25,159.65 L1184.29,159.52 L1188.33,159.39 L1192.37,159.25 L1196.41,159.12 L1200.45,158.98 L1204.50,158.84 L1208.54,158.70 L1212.58,158.56 L1216.62,158.41 L1220.66,158.25 L1224.71,158.09 L1228.75,157.92 L1232.79,157.75 L1236.83,157.57 L1240.87,157.38 L1244.91,157.18 L1248.95,156.97 L1252.98,156.75 L1257.02,156.52" fill="none" stroke="#f0935c" stroke-width="2.4" stroke-linejoin="round" stroke-linecap="round"/>
<path d="M811.77,336.43 C812.53,333.37 814.83,323.77 816.36,318.05 C817.89,312.34 819.42,307.11 820.95,302.14 C822.48,297.17 824.01,292.59 825.54,288.23 C827.07,283.86 828.60,279.82 830.13,275.96 C831.66,272.10 832.43,269.97 834.72,265.07 C837.01,260.17 840.46,252.73 843.90,246.56 C847.34,240.40 851.55,233.63 855.38,228.09 C859.20,222.56 862.64,218.17 866.85,213.34 C871.06,208.52 875.26,203.97 880.62,199.15 C885.98,194.33 892.86,188.77 898.98,184.40 C905.10,180.04 911.22,176.39 917.34,172.97 C923.46,169.54 928.82,166.88 935.70,163.85 C942.59,160.82 951.00,157.49 958.65,154.77 C966.30,152.05 970.12,150.54 981.60,147.53 C993.08,144.53 1012.20,139.82 1027.50,136.76 C1042.80,133.69 1058.10,131.35 1073.40,129.14 C1088.70,126.93 1104.00,125.16 1119.30,123.49 C1134.60,121.83 1149.90,120.45 1165.20,119.15 C1180.50,117.86 1195.80,116.76 1211.10,115.73 C1226.40,114.70 1249.35,113.43 1257.00,112.97" fill="none" stroke="#e8283a" stroke-width="2.4" stroke-linejoin="round" stroke-linecap="round"/>
<path d="M811.77,334.88 C812.53,331.80 814.83,322.15 816.36,316.40 C817.89,310.65 819.42,305.40 820.95,300.40 C822.48,295.39 824.01,290.79 825.54,286.40 C827.07,282.00 828.60,277.93 830.13,274.05 C831.66,270.16 832.43,268.01 834.72,263.08 C837.01,258.14 840.46,250.65 843.90,244.43 C847.34,238.22 851.55,231.39 855.38,225.80 C859.20,220.21 862.64,215.78 866.85,210.90 C871.06,206.02 875.26,201.43 880.62,196.54 C885.98,191.65 892.86,186.02 898.98,181.59 C905.10,177.16 911.22,173.45 917.34,169.96 C923.46,166.48 928.82,163.76 935.70,160.67 C942.59,157.57 951.00,154.16 958.65,151.37 C966.30,148.58 970.12,147.03 981.60,143.94 C993.08,140.84 1012.20,135.97 1027.50,132.79 C1042.80,129.60 1058.10,127.15 1073.40,124.83 C1088.70,122.51 1104.00,120.63 1119.30,118.86 C1134.60,117.09 1149.90,115.61 1165.20,114.22 C1180.50,112.83 1195.80,111.63 1211.10,110.51 C1226.40,109.38 1249.35,107.97 1257.00,107.47" fill="none" stroke="#7b3b9e" stroke-width="2.4" stroke-linejoin="round" stroke-linecap="round"/>
<path d="M866.00,408.00 C868.20,407.20 874.65,404.65 879.20,403.20 C883.75,401.75 889.13,400.53 893.30,399.30 C897.47,398.07 900.17,397.35 904.20,395.80 C908.23,394.25 913.53,391.88 917.50,390.00 C921.47,388.12 923.63,386.88 928.00,384.50 C932.37,382.12 936.82,379.57 943.70,375.70 C950.58,371.83 962.02,365.78 969.30,361.30 C976.58,356.82 979.93,353.85 987.40,348.80 C994.87,343.75 1006.83,336.30 1014.10,331.00 C1021.37,325.70 1024.42,322.83 1031.00,317.00 C1037.58,311.17 1046.77,302.17 1053.60,296.00 C1060.43,289.83 1065.72,285.20 1072.00,280.00 C1078.28,274.80 1084.72,269.73 1091.25,264.80 C1097.78,259.87 1104.42,255.22 1111.20,250.40 C1117.98,245.58 1124.90,240.55 1131.90,235.90 C1138.90,231.25 1145.75,226.68 1153.20,222.50 C1160.65,218.32 1168.82,214.45 1176.60,210.80 C1184.38,207.15 1192.03,203.82 1199.90,200.60 C1207.77,197.38 1215.67,194.45 1223.80,191.50 C1231.93,188.55 1243.17,184.77 1248.70,182.90 C1254.23,181.03 1255.62,180.73 1257.00,180.30" fill="none" stroke="#000" stroke-width="2.6" stroke-dasharray="12.5,12"/>
<circle cx="855.8" cy="225.4" r="3.9" fill="#ee1111"/>
<circle cx="855.8" cy="336.2" r="3.9" fill="#ee1111"/>
<circle cx="855.8" cy="397.0" r="3.9" fill="#ee1111"/>
<circle cx="855.8" cy="411.2" r="3.9" fill="#ee1111"/>
<circle cx="828.4" cy="56" r="3.7" fill="#ee1111"/>
<text x="861.00" y="63.60" font-size="21.5" font-weight="normal" text-anchor="start" fill="#2a2a2a" textLength="88" lengthAdjust="spacingAndGlyphs"><tspan>Battery 1</tspan></text>
<line x1="808.30" y1="85.10" x2="821.40" y2="85.10" stroke="#000" stroke-width="2.8"/>
<line x1="834.00" y1="85.10" x2="847.60" y2="85.10" stroke="#000" stroke-width="2.8"/>
<text x="868.00" y="92.50" font-size="21.5" font-weight="normal" text-anchor="start" fill="#2a2a2a" textLength="142" lengthAdjust="spacingAndGlyphs"><tspan>Energy  at </tspan><tspan font-style="italic">W</tspan><tspan dy="7.00" font-size="16" font-style="italic">c</tspan></text>
<text x="1218.00" y="103.40" font-size="21.5" font-weight="normal" text-anchor="start" fill="#2a2a2a" textLength="34" lengthAdjust="spacingAndGlyphs"><tspan>1 C</tspan></text>
<text x="1105.00" y="143.80" font-size="21.5" font-weight="normal" text-anchor="start" fill="#2a2a2a" textLength="66" lengthAdjust="spacingAndGlyphs"><tspan>1.52 C</tspan></text>
<line x1="1174.60" y1="132.00" x2="1188.00" y2="122.00" stroke="#000" stroke-width="2.2"/>
<polygon points="1196.4,116.2 1184.2,119.0 1189.8,126.2" fill="#000"/>
<text x="1213.00" y="155.50" font-size="21.5" font-weight="normal" text-anchor="start" fill="#2a2a2a" textLength="37" lengthAdjust="spacingAndGlyphs"><tspan>6 C</tspan></text>
<text x="1204.50" y="222.70" font-size="21.5" font-weight="normal" text-anchor="start" fill="#2a2a2a" textLength="47" lengthAdjust="spacingAndGlyphs"><tspan>12 C</tspan></text>
<text x="1122.50" y="288.90" font-size="21.5" font-weight="normal" text-anchor="start" fill="#2a2a2a" textLength="47" lengthAdjust="spacingAndGlyphs"><tspan>20 C</tspan></text>
<text x="1063.00" y="322.20" font-size="21.5" font-weight="normal" text-anchor="start" fill="#2a2a2a" textLength="66" lengthAdjust="spacingAndGlyphs"><tspan>30.5 C</tspan></text>
<text x="1001.00" y="373.80" font-size="21.5" font-weight="normal" text-anchor="start" fill="#2a2a2a" textLength="48" lengthAdjust="spacingAndGlyphs"><tspan>75 C</tspan></text>
<text x="1191.00" y="407.50" font-size="21.5" font-weight="normal" text-anchor="start" fill="#2a2a2a" textLength="59" lengthAdjust="spacingAndGlyphs"><tspan>146 C</tspan></text>
<text x="0.00" y="0.00" font-size="22" font-weight="bold" text-anchor="start" fill="#111" transform="translate(1091.00,247.00) rotate(-35)"><tspan>W</tspan><tspan dy="8.00" font-size="19" dx="3">c</tspan></text>
<path d="M147.70,896.40 L604.00,896.40" fill="none" stroke="#1c1c8c" stroke-width="3.2" stroke-linejoin="round" stroke-linecap="round"/>
<path d="M212.08,898.04 L216.00,896.86 L219.92,895.72 L223.85,894.61 L227.79,893.53 L231.72,892.49 L235.67,891.49 L239.61,890.51 L243.56,889.57 L247.51,888.67 L251.47,887.79 L255.43,886.94 L259.40,886.13 L263.36,885.35 L267.34,884.59 L271.31,883.87 L275.29,883.17 L279.27,882.50 L283.26,881.86 L287.24,881.24 L291.23,880.66 L295.23,880.09 L299.22,879.56 L303.22,879.04 L307.23,878.56 L311.23,878.09 L315.24,877.65 L319.25,877.23 L323.26,876.83 L327.28,876.46 L331.30,876.10 L335.32,875.77 L339.34,875.46 L343.36,875.16 L347.39,874.88 L351.42,874.63 L355.45,874.39 L359.48,874.16 L363.51,873.96 L367.55,873.77 L371.58,873.59 L375.62,873.43 L379.66,873.29 L383.70,873.16 L387.75,873.04 L391.79,872.93 L395.84,872.84 L399.88,872.76 L403.93,872.69 L407.98,872.63 L412.03,872.58 L416.08,872.55 L420.13,872.52 L424.18,872.50 L428.23,872.48 L432.28,872.48 L436.34,872.48 L440.39,872.48 L444.44,872.50 L448.50,872.52 L452.55,872.54 L456.61,872.57 L460.66,872.60 L464.72,872.63 L468.77,872.67 L472.82,872.71 L476.88,872.75 L480.93,872.79 L484.98,872.84 L489.04,872.88 L493.09,872.92 L497.14,872.96 L501.19,873.00 L505.24,873.04 L509.29,873.07 L513.34,873.10 L517.39,873.13 L521.43,873.15 L525.48,873.17 L529.52,873.18 L533.56,873.18 L537.61,873.18 L541.65,873.18 L545.68,873.16 L549.72,873.14 L553.76,873.11 L557.79,873.06 L561.82,873.01 L565.85,872.95 L569.88,872.88 L573.91,872.79 L577.93,872.70 L581.95,872.59 L585.97,872.47 L589.99,872.33 L594.01,872.19 L598.02,872.02" fill="none" stroke="#a02a2a" stroke-width="2.6" stroke-linejoin="round" stroke-linecap="round"/>
<path d="M150.36,898.05 L154.40,897.99 L158.39,897.75 L162.35,897.35 L166.28,896.80 L170.17,896.10 L174.04,895.27 L177.87,894.32 L181.69,893.25 L185.48,892.09 L189.26,890.84 L193.02,889.52 L196.77,888.12 L200.51,886.67 L204.24,885.18 L207.97,883.65 L211.69,882.10 L215.41,880.53 L219.14,878.95 L222.86,877.36 L226.59,875.78 L230.33,874.21 L234.07,872.65 L237.81,871.12 L241.57,869.61 L245.34,868.15 L249.11,866.73 L252.91,865.36 L256.71,864.05 L260.54,862.81 L264.38,861.64 L268.24,860.53 L272.11,859.49 L276.00,858.51 L279.90,857.60 L283.82,856.74 L287.75,855.94 L291.69,855.19 L295.64,854.49 L299.61,853.85 L303.58,853.25 L307.57,852.69 L311.56,852.18 L315.57,851.71 L319.58,851.28 L323.59,850.88 L327.62,850.52 L331.65,850.19 L335.68,849.89 L339.72,849.61 L343.77,849.36 L347.81,849.13 L351.86,848.92 L355.91,848.73 L359.96,848.55 L364.01,848.38 L368.07,848.23 L372.12,848.09 L376.17,847.95 L380.21,847.82 L384.26,847.69 L388.31,847.57 L392.35,847.46 L396.39,847.35 L400.43,847.25 L404.47,847.15 L408.51,847.06 L412.55,846.97 L416.59,846.89 L420.63,846.81 L424.66,846.74 L428.70,846.67 L432.73,846.61 L436.77,846.55 L440.80,846.49 L444.83,846.44 L448.86,846.39 L452.90,846.34 L456.93,846.30 L460.96,846.26 L464.99,846.23 L469.02,846.20 L473.05,846.17 L477.08,846.14 L481.11,846.11 L485.15,846.09 L489.18,846.07 L493.21,846.05 L497.24,846.03 L501.27,846.02 L505.30,846.00 L509.34,845.99 L513.37,845.98 L517.40,845.96 L521.44,845.95 L525.47,845.94 L529.51,845.93 L533.55,845.92 L537.58,845.91 L541.62,845.90 L545.66,845.89 L549.70,845.88 L553.74,845.87 L557.79,845.86 L561.83,845.85 L565.88,845.83 L569.92,845.82 L573.97,845.80 L578.02,845.79 L582.07,845.77 L586.12,845.75 L590.18,845.72 L594.23,845.70 L598.29,845.67" fill="none" stroke="#d64ade" stroke-width="2.6" stroke-linejoin="round" stroke-linecap="round"/>
<path d="M150.98,867.06 L153.68,864.16 L156.40,861.24 L159.15,858.31 L161.92,855.39 L164.72,852.46 L167.55,849.54 L170.40,846.63 L173.28,843.73 L176.20,840.86 L179.14,838.00 L182.11,835.18 L185.12,832.38 L188.15,829.62 L191.22,826.90 L194.33,824.22 L197.46,821.59 L200.64,819.01 L203.84,816.48 L207.08,814.01 L210.36,811.60 L213.67,809.26 L217.01,806.98 L220.39,804.76 L223.80,802.62 L227.25,800.55 L230.73,798.56 L234.25,796.65 L237.80,794.82 L241.38,793.08 L245.00,791.43 L248.65,789.87 L252.33,788.39 L256.04,787.00 L259.79,785.70 L263.56,784.47 L267.36,783.32 L271.19,782.24 L275.04,781.24 L278.92,780.31 L282.81,779.44 L286.73,778.63 L290.67,777.88 L294.63,777.19 L298.60,776.56 L302.59,775.98 L306.60,775.45 L310.62,774.96 L314.65,774.52 L318.69,774.12 L322.74,773.75 L326.80,773.43 L330.86,773.13 L334.94,772.86 L339.01,772.62 L343.09,772.41 L347.17,772.22 L351.26,772.04 L355.34,771.88 L359.42,771.74 L363.49,771.60 L367.57,771.48 L371.64,771.36 L375.71,771.26 L379.77,771.16 L383.84,771.07 L387.90,770.99 L391.95,770.92 L396.01,770.85 L400.06,770.80 L404.12,770.75 L408.16,770.70 L412.21,770.66 L416.26,770.63 L420.30,770.61 L424.35,770.58 L428.39,770.57 L432.43,770.56 L436.47,770.55 L440.51,770.54 L444.54,770.54 L448.58,770.55 L452.61,770.55 L456.65,770.56 L460.68,770.57 L464.72,770.58 L468.75,770.60 L472.79,770.61 L476.82,770.63 L480.85,770.64 L484.89,770.66 L488.92,770.67 L492.96,770.69 L496.99,770.70 L501.03,770.71 L505.07,770.72 L509.10,770.73 L513.14,770.74 L517.18,770.74 L521.22,770.74 L525.26,770.74 L529.31,770.74 L533.35,770.73 L537.40,770.71 L541.45,770.69 L545.50,770.67 L549.55,770.64 L553.61,770.60 L557.66,770.56 L561.72,770.51 L565.78,770.46 L569.85,770.40 L573.91,770.33 L577.98,770.25 L582.05,770.16 L586.13,770.07 L590.21,769.97 L594.29,769.86 L598.37,769.74" fill="none" stroke="#3b8de6" stroke-width="2.6" stroke-linejoin="round" stroke-linecap="round"/>
<path d="M150.39,809.96 L152.54,806.10 L154.77,802.33 L157.09,798.67 L159.48,795.10 L161.95,791.63 L164.50,788.26 L167.12,784.98 L169.81,781.79 L172.57,778.69 L175.40,775.69 L178.29,772.78 L181.25,769.96 L184.27,767.22 L187.35,764.58 L190.48,762.02 L193.67,759.55 L196.91,757.17 L200.21,754.87 L203.55,752.65 L206.94,750.52 L210.38,748.47 L213.86,746.50 L217.38,744.61 L220.94,742.81 L224.54,741.08 L228.17,739.43 L231.83,737.86 L235.53,736.36 L239.26,734.94 L243.01,733.59 L246.79,732.32 L250.60,731.12 L254.43,729.99 L258.28,728.92 L262.15,727.92 L266.04,726.99 L269.96,726.11 L273.89,725.29 L277.84,724.53 L281.80,723.82 L285.78,723.16 L289.78,722.55 L293.79,721.98 L297.81,721.46 L301.84,720.98 L305.88,720.55 L309.94,720.15 L314.00,719.78 L318.07,719.45 L322.14,719.15 L326.23,718.87 L330.31,718.62 L334.40,718.40 L338.49,718.20 L342.59,718.02 L346.68,717.85 L350.77,717.70 L354.87,717.56 L358.95,717.43 L363.04,717.31 L367.12,717.20 L371.20,717.10 L375.28,717.00 L379.35,716.91 L383.42,716.83 L387.49,716.75 L391.56,716.68 L395.62,716.61 L399.68,716.55 L403.74,716.50 L407.79,716.45 L411.85,716.40 L415.90,716.36 L419.95,716.33 L424.00,716.29 L428.04,716.26 L432.09,716.24 L436.13,716.22 L440.18,716.20 L444.22,716.18 L448.26,716.16 L452.30,716.15 L456.34,716.14 L460.38,716.13 L464.42,716.12 L468.46,716.12 L472.50,716.11 L476.54,716.10 L480.58,716.10 L484.62,716.09 L488.66,716.08 L492.70,716.07 L496.75,716.07 L500.79,716.06 L504.83,716.04 L508.88,716.03 L512.92,716.02 L516.97,716.00 L521.02,715.98 L525.07,715.95 L529.12,715.93 L533.18,715.90 L537.23,715.87 L541.29,715.83 L545.35,715.79 L549.42,715.74 L553.48,715.69 L557.55,715.63 L561.62,715.57 L565.70,715.50 L569.77,715.43 L573.85,715.35 L577.94,715.27 L582.02,715.17 L586.11,715.07 L590.21,714.97 L594.30,714.85 L598.41,714.73" fill="none" stroke="#2aae8c" stroke-width="2.6" stroke-linejoin="round" stroke-linecap="round"/>
<path d="M148.67,723.46 L151.87,720.47 L155.10,717.57 L158.36,714.77 L161.66,712.06 L164.99,709.45 L168.36,706.93 L171.75,704.49 L175.17,702.15 L178.63,699.89 L182.11,697.72 L185.62,695.63 L189.16,693.63 L192.73,691.70 L196.32,689.85 L199.94,688.08 L203.58,686.38 L207.25,684.76 L210.94,683.20 L214.65,681.72 L218.39,680.31 L222.15,678.96 L225.93,677.68 L229.73,676.47 L233.55,675.31 L237.39,674.22 L241.25,673.18 L245.13,672.20 L249.02,671.28 L252.93,670.40 L256.85,669.59 L260.79,668.82 L264.75,668.10 L268.72,667.43 L272.70,666.80 L276.69,666.22 L280.70,665.68 L284.72,665.18 L288.74,664.72 L292.78,664.29 L296.83,663.91 L300.88,663.55 L304.94,663.23 L309.01,662.94 L313.09,662.68 L317.17,662.44 L321.26,662.24 L325.35,662.05 L329.45,661.89 L333.55,661.75 L337.65,661.63 L341.75,661.52 L345.86,661.43 L349.96,661.36 L354.07,661.30 L358.17,661.25 L362.27,661.21 L366.37,661.17 L370.47,661.14 L374.56,661.12 L378.66,661.11 L382.75,661.10 L386.83,661.09 L390.92,661.09 L395.00,661.09 L399.08,661.10 L403.16,661.11 L407.23,661.13 L411.31,661.14 L415.38,661.17 L419.45,661.19 L423.52,661.22 L427.59,661.25 L431.65,661.28 L435.72,661.31 L439.78,661.34 L443.84,661.38 L447.90,661.41 L451.96,661.45 L456.02,661.48 L460.08,661.52 L464.14,661.56 L468.19,661.59 L472.25,661.63 L476.31,661.66 L480.36,661.69 L484.42,661.72 L488.47,661.75 L492.52,661.78 L496.58,661.80 L500.63,661.82 L504.69,661.84 L508.74,661.86 L512.80,661.87 L516.85,661.87 L520.91,661.88 L524.97,661.88 L529.02,661.87 L533.08,661.86 L537.14,661.84 L541.20,661.82 L545.26,661.80 L549.32,661.76 L553.39,661.72 L557.45,661.68 L561.52,661.62 L565.59,661.56 L569.66,661.49 L573.73,661.42 L577.80,661.34 L581.87,661.24 L585.95,661.14 L590.03,661.03 L594.11,660.92 L598.19,660.79" fill="none" stroke="#3fe39a" stroke-width="2.6" stroke-linejoin="round" stroke-linecap="round"/>
<path d="M149.87,648.33 L153.73,646.79 L157.59,645.31 L161.46,643.87 L165.35,642.49 L169.23,641.15 L173.13,639.86 L177.03,638.62 L180.94,637.43 L184.86,636.28 L188.79,635.17 L192.72,634.11 L196.66,633.09 L200.60,632.11 L204.56,631.18 L208.51,630.28 L212.48,629.42 L216.45,628.61 L220.42,627.82 L224.40,627.08 L228.39,626.37 L232.38,625.70 L236.38,625.06 L240.38,624.45 L244.39,623.88 L248.40,623.33 L252.41,622.82 L256.44,622.34 L260.46,621.88 L264.49,621.46 L268.52,621.06 L272.56,620.69 L276.60,620.34 L280.64,620.01 L284.69,619.71 L288.74,619.44 L292.79,619.18 L296.85,618.95 L300.90,618.73 L304.97,618.54 L309.03,618.36 L313.09,618.20 L317.16,618.06 L321.23,617.93 L325.30,617.82 L329.37,617.72 L333.45,617.63 L337.52,617.56 L341.60,617.50 L345.68,617.44 L349.76,617.40 L353.84,617.37 L357.92,617.34 L362.00,617.32 L366.08,617.31 L370.16,617.30 L374.24,617.30 L378.32,617.30 L382.40,617.31 L386.47,617.31 L390.55,617.32 L394.63,617.33 L398.71,617.35 L402.79,617.37 L406.87,617.39 L410.95,617.41 L415.02,617.43 L419.10,617.46 L423.18,617.48 L427.25,617.51 L431.33,617.53 L435.41,617.56 L439.48,617.59 L443.56,617.62 L447.63,617.65 L451.71,617.67 L455.78,617.70 L459.85,617.73 L463.93,617.75 L468.00,617.78 L472.07,617.80 L476.14,617.82 L480.22,617.84 L484.29,617.85 L488.36,617.87 L492.43,617.88 L496.50,617.89 L500.57,617.90 L504.64,617.90 L508.71,617.90 L512.77,617.89 L516.84,617.88 L520.91,617.87 L524.98,617.86 L529.04,617.83 L533.11,617.81 L537.17,617.78 L541.24,617.74 L545.30,617.70 L549.36,617.65 L553.43,617.60 L557.49,617.54 L561.55,617.47 L565.61,617.40 L569.67,617.32 L573.73,617.24 L577.79,617.15 L581.85,617.05 L585.91,616.94 L589.97,616.82 L594.02,616.70 L598.08,616.57" fill="none" stroke="#f0935c" stroke-width="2.6" stroke-linejoin="round" stroke-linecap="round"/>
<path d="M149.96,585.67 L153.99,585.37 L158.02,585.07 L162.05,584.79 L166.08,584.51 L170.11,584.24 L174.14,583.98 L178.18,583.72 L182.21,583.48 L186.24,583.24 L190.28,583.01 L194.31,582.79 L198.34,582.57 L202.38,582.36 L206.41,582.16 L210.44,581.97 L214.48,581.78 L218.51,581.60 L222.55,581.42 L226.58,581.26 L230.62,581.09 L234.65,580.94 L238.69,580.79 L242.73,580.65 L246.76,580.51 L250.80,580.38 L254.84,580.25 L258.87,580.13 L262.91,580.02 L266.95,579.91 L270.98,579.81 L275.02,579.71 L279.06,579.61 L283.10,579.53 L287.13,579.44 L291.17,579.36 L295.21,579.29 L299.25,579.21 L303.29,579.15 L307.33,579.08 L311.37,579.03 L315.40,578.97 L319.44,578.92 L323.48,578.87 L327.52,578.83 L331.56,578.79 L335.60,578.75 L339.64,578.72 L343.68,578.69 L347.72,578.66 L351.76,578.63 L355.80,578.61 L359.84,578.59 L363.88,578.57 L367.92,578.56 L371.96,578.54 L376.00,578.53 L380.04,578.52 L384.08,578.52 L388.12,578.51 L392.16,578.51 L396.20,578.51 L400.24,578.51 L404.28,578.51 L408.32,578.51 L412.36,578.51 L416.41,578.51 L420.45,578.52 L424.49,578.52 L428.53,578.53 L432.57,578.53 L436.61,578.54 L440.65,578.55 L444.69,578.55 L448.73,578.56 L452.77,578.56 L456.81,578.57 L460.85,578.57 L464.89,578.58 L468.93,578.58 L472.97,578.59 L477.01,578.59 L481.05,578.59 L485.09,578.59 L489.13,578.59 L493.17,578.59 L497.21,578.58 L501.25,578.58 L505.29,578.57 L509.33,578.56 L513.37,578.55 L517.41,578.54 L521.45,578.52 L525.49,578.51 L529.53,578.49 L533.57,578.46 L537.61,578.44 L541.65,578.41 L545.69,578.38 L549.73,578.35 L553.77,578.31 L557.80,578.27 L561.84,578.22 L565.88,578.18 L569.92,578.13 L573.96,578.07 L577.99,578.01 L582.03,577.95 L586.07,577.88 L590.11,577.81 L594.14,577.74 L598.18,577.66" fill="none" stroke="#e8283a" stroke-width="2.6" stroke-linejoin="round" stroke-linecap="round"/>
<path d="M149.98,578.10 L154.02,577.91 L158.05,577.73 L162.09,577.55 L166.12,577.37 L170.16,577.20 L174.19,577.04 L178.23,576.88 L182.26,576.73 L186.30,576.58 L190.33,576.43 L194.37,576.29 L198.41,576.16 L202.44,576.02 L206.48,575.90 L210.51,575.78 L214.55,575.66 L218.59,575.54 L222.62,575.43 L226.66,575.33 L230.70,575.22 L234.73,575.13 L238.77,575.03 L242.81,574.94 L246.85,574.85 L250.88,574.77 L254.92,574.69 L258.96,574.61 L262.99,574.54 L267.03,574.47 L271.07,574.40 L275.11,574.34 L279.15,574.28 L283.18,574.22 L287.22,574.17 L291.26,574.11 L295.30,574.07 L299.34,574.02 L303.37,573.98 L307.41,573.93 L311.45,573.90 L315.49,573.86 L319.53,573.83 L323.57,573.80 L327.60,573.77 L331.64,573.74 L335.68,573.71 L339.72,573.69 L343.76,573.67 L347.80,573.65 L351.84,573.63 L355.87,573.62 L359.91,573.61 L363.95,573.59 L367.99,573.58 L372.03,573.57 L376.07,573.57 L380.11,573.56 L384.15,573.55 L388.19,573.55 L392.22,573.55 L396.26,573.54 L400.30,573.54 L404.34,573.54 L408.38,573.54 L412.42,573.54 L416.46,573.55 L420.50,573.55 L424.54,573.55 L428.58,573.55 L432.61,573.56 L436.65,573.56 L440.69,573.57 L444.73,573.57 L448.77,573.58 L452.81,573.58 L456.85,573.58 L460.89,573.59 L464.93,573.59 L468.97,573.60 L473.00,573.60 L477.04,573.60 L481.08,573.61 L485.12,573.61 L489.16,573.61 L493.20,573.61 L497.24,573.61 L501.28,573.61 L505.32,573.61 L509.35,573.60 L513.39,573.60 L517.43,573.59 L521.47,573.59 L525.51,573.58 L529.55,573.57 L533.58,573.56 L537.62,573.55 L541.66,573.54 L545.70,573.52 L549.74,573.50 L553.78,573.49 L557.81,573.46 L561.85,573.44 L565.89,573.42 L569.93,573.39 L573.97,573.36 L578.00,573.33 L582.04,573.30 L586.08,573.26 L590.12,573.23 L594.15,573.19 L598.19,573.14" fill="none" stroke="#7b3b9e" stroke-width="2.6" stroke-linejoin="round" stroke-linecap="round"/>
<path d="M145.33,607.57 L149.44,609.37 L153.45,611.24 L157.37,613.20 L161.19,615.23 L164.92,617.34 L168.56,619.51 L172.11,621.76 L175.58,624.08 L178.96,626.46 L182.26,628.91 L185.49,631.42 L188.63,633.99 L191.71,636.62 L194.71,639.31 L197.64,642.06 L200.51,644.86 L203.31,647.71 L206.05,650.61 L208.73,653.56 L211.36,656.56 L213.93,659.61 L216.44,662.69 L218.91,665.82 L221.33,668.99 L223.70,672.20 L226.03,675.44 L228.32,678.72 L230.58,682.03 L232.79,685.37 L234.98,688.74 L237.13,692.13 L239.25,695.55 L241.35,699.00 L243.42,702.47 L245.48,705.96 L247.51,709.46 L249.52,712.98 L251.53,716.52 L253.52,720.07 L255.50,723.63 L257.47,727.20 L259.44,730.78 L261.40,734.36 L263.37,737.95 L265.33,741.54 L267.31,745.13 L269.29,748.72 L271.27,752.30 L273.27,755.88 L275.29,759.46 L277.32,763.02 L279.37,766.58 L281.44,770.12 L283.53,773.65 L285.65,777.16 L287.80,780.65 L289.98,784.13 L292.19,787.58 L294.43,791.01 L296.71,794.42 L299.01,797.79 L301.35,801.14 L303.73,804.46 L306.14,807.74 L308.59,810.99 L311.08,814.20 L313.60,817.38 L316.17,820.51 L318.77,823.60 L321.41,826.64 L324.10,829.64 L326.82,832.59 L329.59,835.48 L332.41,838.33 L335.26,841.12 L338.16,843.85 L341.11,846.53 L344.10,849.14 L347.15,851.69 L350.24,854.18 L353.37,856.60 L356.56,858.95 L359.80,861.23 L363.09,863.44 L366.43,865.58 L369.82,867.64 L373.26,869.62 L376.75,871.53 L380.29,873.35 L383.88,875.10 L387.52,876.76 L391.20,878.34 L394.94,879.83 L398.71,881.24 L402.54,882.56 L406.41,883.79 L410.32,884.93 L414.28,885.98 L418.29,886.93 L422.33,887.79 L426.42,888.56 L430.55,889.23 L434.72,889.80 L438.94,890.27 L443.19,890.64 L447.48,890.90 L451.82,891.07 L456.19,891.12 L460.60,891.08 L465.04,890.92 L469.53,890.65" fill="none" stroke="#111" stroke-width="2.6" stroke-dasharray="10,11"/>
<path d="M148.62,687.81 L151.01,690.86 L153.38,693.96 L155.72,697.09 L158.04,700.26 L160.33,703.48 L162.60,706.72 L164.86,710.00 L167.09,713.31 L169.31,716.65 L171.52,720.01 L173.72,723.40 L175.90,726.81 L178.08,730.23 L180.25,733.68 L182.42,737.14 L184.58,740.61 L186.75,744.08 L188.91,747.57 L191.08,751.06 L193.25,754.56 L195.43,758.05 L197.61,761.55 L199.81,765.04 L202.01,768.52 L204.24,772.00 L206.47,775.46 L208.73,778.91 L211.00,782.35 L213.29,785.76 L215.61,789.16 L217.95,792.54 L220.31,795.89 L222.71,799.21 L225.13,802.50 L227.59,805.77 L230.07,808.99 L232.60,812.19 L235.16,815.34 L237.76,818.45 L240.40,821.52 L243.08,824.55 L245.81,827.53 L248.58,830.45 L251.40,833.33 L254.27,836.15 L257.19,838.91 L260.16,841.62 L263.18,844.27 L266.25,846.86 L269.37,849.39 L272.53,851.86 L275.74,854.27 L278.99,856.61 L282.29,858.89 L285.63,861.11 L289.01,863.27 L292.43,865.36 L295.90,867.38 L299.40,869.34 L302.94,871.22 L306.52,873.04 L310.14,874.79 L313.79,876.47 L317.48,878.08 L321.21,879.62 L324.96,881.08 L328.75,882.47 L332.58,883.79 L336.43,885.03 L340.31,886.20 L344.23,887.28 L348.17,888.30 L352.14,889.23 L356.13,890.08 L360.15,890.86 L364.20,891.55 L368.27,892.16 L372.37,892.69 L376.48,893.13 L380.62,893.50 L384.78,893.77 L388.96,893.96 L393.16,894.07 L397.37,894.09 L401.61,894.02 L405.86,893.86 L410.12,893.61 L414.40,893.27 L418.70,892.84" fill="none" stroke="#111" stroke-width="2.6" stroke-dasharray="10,11"/>
<circle cx="461.7" cy="578.1" r="3.9" fill="#ee1111"/>
<circle cx="461.7" cy="766.8" r="3.9" fill="#ee1111"/>
<circle cx="461.7" cy="870.7" r="3.9" fill="#ee1111"/>
<circle cx="461.7" cy="896" r="3.9" fill="#ee1111"/>
<circle cx="213.3" cy="544.5" r="3.6" fill="#ee1111"/>
<text x="245.50" y="552.60" font-size="21.5" font-weight="normal" text-anchor="start" fill="#2a2a2a" textLength="89" lengthAdjust="spacingAndGlyphs"><tspan>Battery 1</tspan></text>
<line x1="356.00" y1="544.50" x2="368.00" y2="544.50" stroke="#000" stroke-width="2.8"/>
<line x1="382.20" y1="544.50" x2="394.40" y2="544.50" stroke="#000" stroke-width="2.8"/>
<text x="413.50" y="552.60" font-size="21.5" font-weight="normal" text-anchor="start" fill="#2a2a2a" textLength="132" lengthAdjust="spacingAndGlyphs"><tspan>Energy at V</tspan><tspan dy="7.00" font-size="16">e</tspan></text>
<text x="565.60" y="568.90" font-size="21.5" font-weight="normal" text-anchor="start" fill="#2a2a2a" textLength="32" lengthAdjust="spacingAndGlyphs"><tspan>1 C</tspan></text>
<text x="480.00" y="598.40" font-size="21.5" font-weight="normal" text-anchor="start" fill="#2a2a2a" textLength="65.5" lengthAdjust="spacingAndGlyphs"><tspan>1.52 C</tspan></text>
<text x="561.50" y="613.70" font-size="21.5" font-weight="normal" text-anchor="start" fill="#2a2a2a" textLength="36" lengthAdjust="spacingAndGlyphs"><tspan>6 C</tspan></text>
<text x="551.30" y="657.50" font-size="21.5" font-weight="normal" text-anchor="start" fill="#2a2a2a" textLength="46.3" lengthAdjust="spacingAndGlyphs"><tspan>12 C</tspan></text>
<text x="550.30" y="711.50" font-size="21.5" font-weight="normal" text-anchor="start" fill="#2a2a2a" textLength="47.3" lengthAdjust="spacingAndGlyphs"><tspan>20 C</tspan></text>
<text x="531.00" y="765.20" font-size="21.5" font-weight="normal" text-anchor="start" fill="#2a2a2a" textLength="66.6" lengthAdjust="spacingAndGlyphs"><tspan>30.5 C</tspan></text>
<text x="550.30" y="840.60" font-size="21.5" font-weight="normal" text-anchor="start" fill="#2a2a2a" textLength="47.3" lengthAdjust="spacingAndGlyphs"><tspan>75 C</tspan></text>
<text x="538.10" y="869.10" font-size="21.5" font-weight="normal" text-anchor="start" fill="#2a2a2a" textLength="59.5" lengthAdjust="spacingAndGlyphs"><tspan>146 C</tspan></text>
<text x="537.10" y="891.50" font-size="21.5" font-weight="normal" text-anchor="start" fill="#2a2a2a" textLength="60.5" lengthAdjust="spacingAndGlyphs"><tspan>457 C</tspan></text>
<text x="0.00" y="0.00" font-size="21" font-weight="bold" text-anchor="start" fill="#111" transform="translate(213.50,624.50) rotate(53)" textLength="70" lengthAdjust="spacingAndGlyphs"><tspan>V</tspan><tspan dy="4.00" font-size="19">e</tspan><tspan dy="-4.00">=0.1</tspan></text>
<text x="0.00" y="0.00" font-size="21" font-weight="bold" text-anchor="start" fill="#111" transform="translate(170.50,692.00) rotate(59)" textLength="72" lengthAdjust="spacingAndGlyphs"><tspan>V</tspan><tspan dy="4.00" font-size="19">e</tspan><tspan dy="-4.00">=0.3</tspan></text>
<path d="M797.70,603.84 L801.79,604.09 L805.87,604.37 L809.96,604.68 L814.03,605.02 L818.10,605.38 L822.17,605.78 L826.23,606.20 L830.28,606.65 L834.33,607.12 L838.37,607.63 L842.41,608.16 L846.44,608.72 L850.47,609.30 L854.49,609.91 L858.50,610.55 L862.51,611.22 L866.51,611.91 L870.51,612.62 L874.50,613.37 L878.49,614.13 L882.47,614.93 L886.45,615.74 L890.41,616.58 L894.38,617.45 L898.33,618.34 L902.28,619.26 L906.23,620.19 L910.17,621.16 L914.10,622.14 L918.03,623.15 L921.95,624.18 L925.86,625.24 L929.77,626.32 L933.67,627.41 L937.57,628.54 L941.46,629.68 L945.34,630.85 L949.22,632.03 L953.09,633.24 L956.95,634.47 L960.81,635.72 L964.66,636.99 L968.51,638.28 L972.35,639.60 L976.18,640.93 L980.01,642.28 L983.83,643.65 L987.64,645.04 L991.45,646.45 L995.25,647.88 L999.04,649.33 L1002.83,650.79 L1006.61,652.28 L1010.38,653.78 L1014.15,655.30 L1017.91,656.84 L1021.66,658.40 L1025.41,659.97 L1029.15,661.56 L1032.88,663.17 L1036.61,664.79 L1040.33,666.43 L1044.04,668.09 L1047.74,669.76 L1051.44,671.45 L1055.13,673.15 L1058.82,674.87 L1062.49,676.61 L1066.16,678.36 L1069.83,680.12 L1073.48,681.90 L1077.13,683.69" fill="none" stroke="#2284e6" stroke-width="2.4" stroke-linejoin="round" stroke-linecap="round"/>
<path d="M797.83,554.02 L801.95,555.14 L806.04,556.32 L810.10,557.55 L814.15,558.84 L818.17,560.18 L822.18,561.57 L826.17,562.99 L830.14,564.46 L834.10,565.96 L838.06,567.48 L842.00,569.04 L845.93,570.61 L849.85,572.20 L853.78,573.81 L857.69,575.42 L861.61,577.03 L865.53,578.65 L869.44,580.26 L873.37,581.87 L877.29,583.46 L881.22,585.04 L885.17,586.59 L889.12,588.13 L893.08,589.63 L897.06,591.10 L901.05,592.53" fill="none" stroke="#2284e6" stroke-width="2.4" stroke-linejoin="round" stroke-linecap="round"/>
<path d="M798.11,541.86 L801.82,543.53 L805.53,545.20 L809.23,546.89 L812.92,548.58 L816.61,550.27 L820.29,551.98 L823.97,553.68 L827.65,555.40 L831.31,557.12 L834.98,558.85 L838.64,560.58 L842.29,562.32 L845.94,564.06 L849.59,565.81 L853.23,567.56 L856.87,569.32 L860.51,571.08 L864.14,572.85 L867.77,574.62 L871.40,576.40 L875.02,578.18 L878.64,579.96 L882.26,581.75 L885.87,583.54 L889.48,585.34 L893.09,587.14 L896.70,588.94 L900.31,590.74 L903.91,592.55 L907.52,594.36 L911.12,596.17 L914.72,597.99 L918.32,599.80 L921.92,601.62 L925.52,603.44 L929.12,605.27 L932.71,607.09 L936.31,608.92 L939.91,610.75 L943.50,612.57 L947.10,614.40 L950.70,616.23 L954.29,618.07 L957.89,619.90 L961.49,621.73 L965.09,623.56 L968.69,625.40 L972.30,627.23 L975.90,629.06 L979.50,630.89 L983.11,632.72 L986.72,634.55 L990.33,636.38 L993.95,638.21 L997.56,640.04 L1001.18,641.87 L1004.80,643.69 L1008.43,645.52 L1012.05,647.34 L1015.68,649.17 L1019.30,651.01 L1022.92,652.85 L1026.54,654.70 L1030.16,656.57 L1033.76,658.45 L1037.37,660.34 L1040.96,662.26 L1044.54,664.20 L1048.12,666.16 L1051.68,668.14 L1055.23,670.16 L1058.76,672.20 L1062.27,674.28 L1065.76,676.40 L1069.21,678.56 L1072.62,680.77 L1075.98,683.04 L1079.29,685.36 L1082.53,687.74 L1085.70,690.19 L1088.80,692.71 L1091.81,695.30 L1094.73,697.98 L1097.55,700.74 L1100.26,703.59 L1102.86,706.53 L1105.36,709.56 L1107.73,712.67 L1110.00,715.87 L1112.15,719.16 L1114.18,722.52 L1116.10,725.95 L1117.91,729.46 L1119.60,733.04 L1121.18,736.69 L1122.63,740.40 L1123.98,744.17 L1125.20,748.00 L1126.31,751.88 L1127.30,755.81 L1128.17,759.80 L1128.94,763.82 L1129.59,767.89 L1130.14,771.98 L1130.59,776.10 L1130.94,780.24 L1131.19,784.40 L1131.36,788.57 L1131.43,792.75 L1131.43,796.92 L1131.34,801.09 L1131.17,805.25 L1130.94,809.39" fill="none" stroke="#2284e6" stroke-width="2.8" stroke-linejoin="round" stroke-linecap="round"/>
<path d="M797.31,614.15 L801.51,614.36 L805.69,614.58 L809.86,614.82 L814.02,615.07 L818.17,615.34 L822.31,615.63 L826.43,615.93 L830.55,616.24 L834.65,616.57 L838.74,616.92 L842.82,617.27 L846.90,617.65 L850.96,618.03 L855.02,618.43 L859.07,618.85 L863.11,619.27 L867.14,619.72 L871.16,620.17 L875.18,620.64 L879.20,621.12 L883.20,621.61 L887.20,622.12 L891.20,622.63 L895.19,623.16 L899.18,623.71 L903.16,624.26 L907.14,624.82 L911.12,625.40 L915.09,625.99 L919.07,626.59 L923.04,627.20 L927.01,627.82 L930.97,628.45 L934.94,629.10 L938.91,629.75 L942.88,630.41 L946.84,631.08 L950.81,631.77 L954.78,632.46 L958.75,633.16 L962.73,633.87 L966.70,634.59 L970.68,635.32 L974.67,636.06 L978.65,636.81 L982.64,637.56 L986.64,638.33 L990.64,639.10 L994.64,639.88 L998.65,640.66 L1002.67,641.46 L1006.69,642.26 L1010.72,643.07 L1014.76,643.89 L1018.81,644.71 L1022.86,645.54 L1026.92,646.38 L1030.99,647.23 L1035.05,648.09 L1039.12,648.98 L1043.18,649.88 L1047.24,650.81 L1051.28,651.77 L1055.30,652.77 L1059.31,653.80 L1063.30,654.87 L1067.26,655.99 L1071.19,657.16 L1075.09,658.39 L1078.96,659.67 L1082.78,661.01 L1086.57,662.42 L1090.31,663.90 L1094.00,665.45 L1097.63,667.08 L1101.22,668.79 L1104.74,670.59 L1108.20,672.47 L1111.60,674.45 L1114.93,676.52 L1118.18,678.70 L1121.36,680.98 L1124.46,683.37 L1127.48,685.87 L1130.41,688.49 L1133.26,691.22 L1136.01,694.06 L1138.66,697.00 L1141.21,700.05 L1143.67,703.19 L1146.01,706.43 L1148.24,709.76 L1150.36,713.18 L1152.37,716.68 L1154.25,720.26 L1156.01,723.91 L1157.63,727.64 L1159.13,731.44 L1160.50,735.30 L1161.72,739.22 L1162.81,743.19 L1163.77,747.21 L1164.59,751.27 L1165.28,755.37 L1165.84,759.49 L1166.26,763.64 L1166.55,767.80 L1166.71,771.98 L1166.73,776.16 L1166.62,780.33 L1166.39,784.50 L1166.02,788.65" fill="none" stroke="#1fb08c" stroke-width="2.4" stroke-linejoin="round" stroke-linecap="round"/>
<path d="M797.75,547.38 L801.83,547.93 L805.89,548.53 L809.95,549.15 L814.00,549.82 L818.04,550.51 L822.06,551.23 L826.08,551.99 L830.10,552.78 L834.10,553.60 L838.10,554.45 L842.08,555.32 L846.06,556.23 L850.03,557.16 L854.00,558.12 L857.96,559.10 L861.91,560.11 L865.85,561.15 L869.78,562.21 L873.71,563.29 L877.64,564.40 L881.55,565.52 L885.46,566.67 L889.37,567.84 L893.27,569.04 L897.16,570.25 L901.05,571.47 L904.93,572.72 L908.81,573.99 L912.68,575.27 L916.55,576.57 L920.41,577.88 L924.27,579.21 L928.12,580.55 L931.97,581.91 L935.82,583.28 L939.66,584.66 L943.50,586.05 L947.34,587.46 L951.17,588.87 L955.00,590.29 L958.82,591.73 L962.65,593.17 L966.47,594.62 L970.29,596.07 L974.10,597.53 L977.92,599.00 L981.73,600.47 L985.54,601.95 L989.35,603.43 L993.15,604.91 L996.96,606.40 L1000.77,607.89 L1004.57,609.37 L1008.37,610.86 L1012.18,612.35 L1015.98,613.84 L1019.78,615.32 L1023.58,616.81 L1027.38,618.29 L1031.19,619.76 L1034.99,621.24 L1038.79,622.70 L1042.60,624.16 L1046.40,625.62" fill="none" stroke="#1fb08c" stroke-width="2.4" stroke-linejoin="round" stroke-linecap="round"/>
<path d="M822.19,523.47 L826.12,524.35 L830.04,525.30 L833.93,526.33 L837.79,527.42 L841.64,528.57 L845.46,529.79 L849.27,531.07 L853.05,532.40 L856.82,533.79 L860.57,535.23 L864.31,536.71 L868.03,538.24 L871.74,539.81 L875.43,541.42 L879.11,543.06 L882.78,544.73 L886.44,546.44 L890.09,548.17 L893.73,549.92 L897.37,551.70 L900.99,553.49 L904.61,555.30 L908.23,557.12 L911.84,558.95 L915.45,560.78 L919.05,562.62 L922.66,564.46 L926.26,566.29 L929.86,568.12 L933.47,569.94 L937.07,571.75 L940.68,573.55 L944.29,575.34 L947.89,577.13 L951.50,578.90 L955.12,580.68 L958.73,582.44 L962.34,584.20 L965.96,585.96 L969.57,587.72 L973.19,589.47 L976.80,591.21 L980.42,592.96 L984.04,594.71 L987.66,596.45 L991.28,598.20 L994.90,599.94 L998.52,601.69 L1002.14,603.44 L1005.76,605.20 L1009.38,606.95 L1013.00,608.71 L1016.62,610.48 L1020.24,612.25 L1023.87,614.02 L1027.49,615.81 L1031.11,617.60 L1034.73,619.40 L1038.35,621.20 L1041.97,623.02 L1045.59,624.85 L1049.21,626.69 L1052.82,628.54 L1056.43,630.40 L1060.03,632.28 L1063.63,634.17 L1067.22,636.09 L1070.80,638.01 L1074.37,639.96 L1077.93,641.92 L1081.49,643.91 L1085.03,645.92 L1088.56,647.95 L1092.07,650.00 L1095.57,652.08 L1099.04,654.19 L1102.48,656.34 L1105.88,658.53 L1109.23,660.77 L1112.54,663.06 L1115.78,665.40 L1118.96,667.81 L1122.07,670.27 L1125.11,672.81 L1128.06,675.42 L1130.92,678.11 L1133.68,680.89 L1136.34,683.75 L1138.90,686.70 L1141.36,689.73 L1143.70,692.85 L1145.95,696.04 L1148.08,699.32 L1150.11,702.67 L1152.04,706.09 L1153.85,709.58 L1155.56,713.14 L1157.17,716.76 L1158.66,720.45 L1160.05,724.20 L1161.32,728.00 L1162.49,731.86 L1163.55,735.78 L1164.51,739.74 L1165.36,743.74 L1166.12,747.78 L1166.77,751.85 L1167.34,755.95 L1167.81,760.07 L1168.19,764.20 L1168.48,768.36 L1168.69,772.51 L1168.82,776.67 L1168.87,780.83 L1168.85,784.98 L1168.75,789.12" fill="none" stroke="#1fb08c" stroke-width="2.6" stroke-linejoin="round" stroke-linecap="round"/>
<path d="M797.62,655.18 L801.76,655.45 L805.90,655.72 L810.03,656.01 L814.14,656.30 L818.25,656.61 L822.35,656.92 L826.45,657.25 L830.53,657.58 L834.61,657.92 L838.68,658.28 L842.74,658.64 L846.80,659.00 L850.85,659.38 L854.90,659.77 L858.94,660.16 L862.98,660.56 L867.01,660.97 L871.03,661.39 L875.05,661.81 L879.07,662.25 L883.09,662.69 L887.10,663.13 L891.10,663.59 L895.11,664.05 L899.11,664.51 L903.11,664.99 L907.11,665.47 L911.11,665.96 L915.10,666.45 L919.09,666.95 L923.09,667.45 L927.08,667.96 L931.07,668.48 L935.07,669.00 L939.06,669.53 L943.06,670.06 L947.05,670.59 L951.05,671.14 L955.05,671.68 L959.05,672.23 L963.05,672.79 L967.06,673.35 L971.07,673.91 L975.08,674.48 L979.09,675.05 L983.11,675.63 L987.14,676.21 L991.16,676.79 L995.20,677.37 L999.23,677.96 L1003.28,678.55 L1007.33,679.15 L1011.38,679.75 L1015.44,680.35 L1019.51,680.95 L1023.58,681.56 L1027.65,682.18 L1031.72,682.80 L1035.80,683.44 L1039.87,684.10 L1043.94,684.77 L1048.01,685.46 L1052.07,686.17 L1056.12,686.90 L1060.17,687.66 L1064.21,688.45 L1068.23,689.27 L1072.24,690.12 L1076.24,691.00 L1080.23,691.92 L1084.19,692.88 L1088.14,693.88 L1092.07,694.92 L1095.98,696.01 L1099.87,697.14 L1103.73,698.33 L1107.57,699.56 L1111.38,700.85 L1115.16,702.20 L1118.92,703.61 L1122.64,705.07 L1126.33,706.60 L1129.98,708.20 L1133.59,709.86 L1137.16,711.60 L1140.67,713.42 L1144.14,715.32 L1147.54,717.30 L1150.89,719.37 L1154.17,721.53 L1157.38,723.78 L1160.52,726.13 L1163.58,728.58 L1166.57,731.13 L1169.46,733.80 L1172.28,736.57 L1174.99,739.45 L1177.62,742.46 L1180.14,745.58 L1182.56,748.83 L1184.88,752.20 L1187.08,755.71 L1189.17,759.35 L1191.13,763.12 L1192.98,767.04 L1194.70,771.10 L1196.29,775.31" fill="none" stroke="#e02228" stroke-width="2.4" stroke-linejoin="round" stroke-linecap="round"/>
<path d="M797.68,584.74 L801.79,585.17 L805.89,585.60 L809.99,586.05 L814.08,586.50 L818.16,586.95 L822.25,587.42 L826.32,587.89 L830.40,588.37 L834.47,588.85 L838.53,589.35 L842.59,589.85 L846.65,590.36 L850.70,590.87 L854.75,591.40 L858.80,591.93 L862.84,592.47 L866.87,593.02 L870.91,593.58 L874.94,594.14 L878.97,594.72 L882.99,595.30 L887.02,595.89 L891.04,596.49 L895.05,597.10 L899.07,597.72 L903.08,598.34 L907.09,598.98 L911.10,599.62 L915.10,600.28 L919.10,600.94 L923.11,601.61 L927.11,602.30 L931.10,602.99 L935.10,603.69 L939.09,604.40 L943.09,605.12 L947.08,605.85 L951.07,606.59 L955.06,607.35 L959.05,608.11 L963.04,608.88 L967.03,609.66 L971.02,610.45 L975.00,611.26 L978.99,612.07 L982.98,612.89 L986.96,613.73 L990.95,614.58 L994.94,615.43 L998.93,616.30 L1002.91,617.18 L1006.90,618.07 L1010.89,618.98 L1014.88,619.89 L1018.87,620.82 L1022.85,621.76 L1026.84,622.71 L1030.82,623.68 L1034.80,624.67 L1038.78,625.67 L1042.75,626.68 L1046.72,627.71 L1050.69,628.76 L1054.65,629.83 L1058.61,630.92 L1062.56,632.02 L1066.50,633.14 L1070.44,634.29 L1074.37,635.45 L1078.29,636.64 L1082.20,637.85 L1086.10,639.08 L1090.00,640.33 L1093.89,641.61 L1097.76,642.91 L1101.63,644.23 L1105.48,645.58 L1109.32,646.96 L1113.15,648.36 L1116.96,649.80 L1120.75,651.28 L1124.50,652.80 L1128.23,654.37 L1131.92,656.00 L1135.57,657.69 L1139.17,659.44 L1142.72,661.27 L1146.22,663.17 L1149.66,665.15 L1153.03,667.22 L1156.33,669.38 L1159.56,671.64 L1162.71,674.01 L1165.78,676.48 L1168.76,679.07 L1171.65,681.77 L1174.44,684.60 L1177.13,687.56 L1179.72,690.66 L1182.19,693.90 L1184.55,697.28 L1186.79,700.81 L1188.91,704.50" fill="none" stroke="#e02228" stroke-width="2.4" stroke-linejoin="round" stroke-linecap="round"/>
<path d="M805.94,523.92 L809.97,524.60 L814.00,525.30 L818.02,526.01 L822.04,526.75 L826.05,527.50 L830.05,528.27 L834.06,529.06 L838.05,529.87 L842.05,530.70 L846.04,531.55 L850.02,532.41 L854.00,533.30 L857.97,534.20 L861.94,535.12 L865.90,536.06 L869.86,537.02 L873.82,538.00 L877.76,538.99 L881.71,540.01 L885.64,541.04 L889.57,542.09 L893.50,543.16 L897.42,544.25 L901.34,545.36 L905.25,546.49 L909.15,547.63 L913.05,548.79 L916.94,549.98 L920.83,551.18 L924.71,552.39 L928.58,553.63 L932.45,554.89 L936.31,556.16 L940.17,557.45 L944.02,558.76 L947.86,560.09 L951.70,561.44 L955.53,562.80 L959.35,564.19 L963.17,565.59 L966.98,567.01 L970.79,568.45 L974.58,569.91 L978.37,571.38 L982.16,572.88 L985.94,574.39 L989.71,575.92 L993.47,577.47 L997.23,579.03 L1000.97,580.62 L1004.72,582.22 L1008.45,583.84 L1012.18,585.48 L1015.90,587.14 L1019.61,588.82 L1023.32,590.51 L1027.01,592.22 L1030.70,593.95 L1034.39,595.70 L1038.06,597.47 L1041.73,599.25 L1045.39,601.05 L1049.04,602.87 L1052.68,604.71 L1056.32,606.57 L1059.94,608.44 L1063.56,610.33 L1067.17,612.24 L1070.78,614.17" fill="none" stroke="#e02228" stroke-width="2.4" stroke-linejoin="round" stroke-linecap="round"/>
<path d="M897.48,524.63 L901.34,526.26 L905.18,527.91 L909.00,529.58 L912.80,531.26 L916.58,532.97 L920.34,534.69 L924.08,536.42 L927.81,538.18 L931.52,539.94 L935.22,541.73 L938.90,543.52 L942.57,545.33 L946.23,547.15 L949.87,548.98 L953.50,550.83 L957.12,552.68 L960.74,554.54 L964.34,556.41 L967.93,558.29 L971.52,560.18 L975.10,562.07 L978.68,563.97 L982.24,565.88 L985.81,567.79 L989.37,569.70 L992.93,571.62 L996.48,573.54 L1000.04,575.46 L1003.59,577.39 L1007.15,579.31 L1010.70,581.24 L1014.26,583.16 L1017.82,585.08 L1021.38,587.00 L1024.94,588.92 L1028.51,590.84 L1032.09,592.75 L1035.67,594.66 L1039.26,596.56 L1042.86,598.45 L1046.47,600.34 L1050.08,602.22 L1053.71,604.09 L1057.34,605.96 L1060.99,607.81 L1064.65,609.66 L1068.32,611.49 L1072.01,613.31 L1075.71,615.13 L1079.43,616.92 L1083.16,618.71 L1086.91,620.48 L1090.68,622.24 L1094.45,623.99 L1098.23,625.74 L1102.00,627.49 L1105.77,629.26 L1109.53,631.03 L1113.26,632.83 L1116.97,634.65 L1120.65,636.50 L1124.30,638.39 L1127.90,640.31 L1131.46,642.28 L1134.97,644.30 L1138.42,646.38 L1141.80,648.52 L1145.12,650.72 L1148.37,652.99 L1151.53,655.34 L1154.61,657.77 L1157.59,660.29 L1160.48,662.90 L1163.27,665.60 L1165.95,668.41 L1168.52,671.33 L1170.97,674.36 L1173.29,677.50 L1175.49,680.76 L1177.57,684.13 L1179.53,687.61 L1181.37,691.18 L1183.10,694.83 L1184.72,698.57 L1186.24,702.38 L1187.65,706.26 L1188.96,710.19 L1190.18,714.17 L1191.31,718.20 L1192.35,722.26 L1193.30,726.35 L1194.17,730.46 L1194.96,734.58 L1195.67,738.71 L1196.32,742.83 L1196.89,746.95 L1197.40,751.05 L1197.85,755.13 L1198.24,759.18 L1198.57,763.18 L1198.86,767.14 L1199.09,771.05 L1199.28,774.90" fill="none" stroke="#e02228" stroke-width="3.0" stroke-linejoin="round" stroke-linecap="round"/>
<path d="M798.11,541.86 L801.82,543.53 L805.53,545.20 L809.23,546.89 L812.92,548.58 L816.61,550.27 L820.29,551.98 L823.97,553.68 L827.65,555.40 L831.31,557.12 L834.98,558.85 L838.64,560.58 L842.29,562.32 L845.94,564.06 L849.59,565.81 L853.23,567.56 L856.87,569.32 L860.51,571.08 L864.14,572.85 L867.77,574.62 L871.40,576.40 L875.02,578.18 L878.64,579.96 L882.26,581.75 L885.87,583.54 L889.48,585.34 L893.09,587.14 L896.70,588.94 L900.31,590.74 L903.91,592.55 L907.52,594.36 L911.12,596.17 L914.72,597.99 L918.32,599.80 L921.92,601.62 L925.52,603.44 L929.12,605.27 L932.71,607.09 L936.31,608.92 L939.91,610.75 L943.50,612.57 L947.10,614.40 L950.70,616.23 L954.29,618.07 L957.89,619.90 L961.49,621.73 L965.09,623.56 L968.69,625.40 L972.30,627.23 L975.90,629.06 L979.50,630.89 L983.11,632.72 L986.72,634.55 L990.33,636.38 L993.95,638.21 L997.56,640.04 L1001.18,641.87 L1004.80,643.69 L1008.43,645.52 L1012.05,647.34 L1015.68,649.17 L1019.30,651.01 L1022.92,652.85 L1026.54,654.70 L1030.16,656.57 L1033.76,658.45 L1037.37,660.34 L1040.96,662.26 L1044.54,664.20 L1048.12,666.16 L1051.68,668.14 L1055.23,670.16 L1058.76,672.20 L1062.27,674.28 L1065.76,676.40 L1069.21,678.56 L1072.62,680.77 L1075.98,683.04 L1079.29,685.36 L1082.53,687.74 L1085.70,690.19 L1088.80,692.71 L1091.81,695.30 L1094.73,697.98 L1097.55,700.74 L1100.26,703.59 L1102.86,706.53 L1105.36,709.56" fill="none" stroke="#2284e6" stroke-width="4.0" stroke-linejoin="round" stroke-linecap="butt"/>
<path d="M822.19,523.47 L826.12,524.35 L830.04,525.30 L833.93,526.33 L837.79,527.42 L841.64,528.57 L845.46,529.79 L849.27,531.07 L853.05,532.40 L856.82,533.79 L860.57,535.23 L864.31,536.71 L868.03,538.24 L871.74,539.81 L875.43,541.42 L879.11,543.06 L882.78,544.73 L886.44,546.44 L890.09,548.17 L893.73,549.92 L897.37,551.70 L900.99,553.49 L904.61,555.30 L908.23,557.12 L911.84,558.95 L915.45,560.78 L919.05,562.62 L922.66,564.46 L926.26,566.29 L929.86,568.12 L933.47,569.94 L937.07,571.75 L940.68,573.55 L944.29,575.34 L947.89,577.13 L951.50,578.90 L955.12,580.68 L958.73,582.44 L962.34,584.20 L965.96,585.96 L969.57,587.72 L973.19,589.47 L976.80,591.21 L980.42,592.96 L984.04,594.71 L987.66,596.45 L991.28,598.20 L994.90,599.94 L998.52,601.69 L1002.14,603.44 L1005.76,605.20 L1009.38,606.95 L1013.00,608.71 L1016.62,610.48 L1020.24,612.25 L1023.87,614.02 L1027.49,615.81 L1031.11,617.60 L1034.73,619.40 L1038.35,621.20 L1041.97,623.02 L1045.59,624.85 L1049.21,626.69 L1052.82,628.54 L1056.43,630.40 L1060.03,632.28 L1063.63,634.17 L1067.22,636.09 L1070.80,638.01 L1074.37,639.96 L1077.93,641.92 L1081.49,643.91 L1085.03,645.92 L1088.56,647.95 L1092.07,650.00 L1095.57,652.08 L1099.04,654.19 L1102.48,656.34 L1105.88,658.53 L1109.23,660.77 L1112.54,663.06 L1115.78,665.40 L1118.96,667.81 L1122.07,670.27 L1125.11,672.81 L1128.06,675.42 L1130.92,678.11 L1133.68,680.89 L1136.34,683.75 L1138.90,686.70 L1141.36,689.73 L1143.70,692.85 L1145.95,696.04 L1148.08,699.32" fill="none" stroke="#1fb08c" stroke-width="4.0" stroke-linejoin="round" stroke-linecap="butt"/>
<polygon points="857.6,529.3 862.2,533.9 857.6,538.5 853.0,533.9" fill="#120808"/>
<polygon points="901.0,587.8 905.6,592.4 901.0,597.0 896.4,592.4" fill="#120808"/>
<polygon points="1046.0,621.3 1050.6,625.9 1046.0,630.5 1041.4,625.9" fill="#120808"/>
<polygon points="1071.0,609.0 1075.6,613.6 1071.0,618.2 1066.4,613.6" fill="#120808"/>
<polygon points="1076.7,679.5 1081.3,684.1 1076.7,688.7 1072.1,684.1" fill="#120808"/>
<polygon points="1151.6,712.9 1156.2,717.5 1151.6,722.1 1147.0,717.5" fill="#120808"/>
<polygon points="1186.5,701.4 1191.1,706.0 1186.5,710.6 1181.9,706.0" fill="#120808"/>
<polygon points="1198.6,795.6 1203.2,800.2 1198.6,804.8 1194.0,800.2" fill="#120808"/>
<text x="0.00" y="0.00" font-size="21.5" font-weight="normal" text-anchor="start" fill="#e02228" transform="translate(950.00,541.00) rotate(27)" textLength="48" lengthAdjust="spacingAndGlyphs"><tspan>k=10</tspan></text>
<text x="804.00" y="639.30" font-size="21.5" font-weight="normal" text-anchor="start" fill="#1fb08c" textLength="66" lengthAdjust="spacingAndGlyphs"><tspan>k=0.01</tspan></text>
<text x="848.50" y="686.40" font-size="21.5" font-weight="normal" text-anchor="start" fill="#e02228" textLength="67" lengthAdjust="spacingAndGlyphs"><tspan>k=0.01</tspan></text>
<text x="809.50" y="723.70" font-size="21.5" font-weight="normal" text-anchor="start" fill="#2a2a2a" textLength="189" lengthAdjust="spacingAndGlyphs"><tspan>Electrode pitch (</tspan><tspan font-style="italic">P</tspan><tspan>)</tspan></text>
<line x1="807.30" y1="747.20" x2="860.00" y2="747.20" stroke="#e02228" stroke-width="2.6"/>
<text x="866.50" y="755.00" font-size="21.5" font-weight="normal" text-anchor="start" fill="#2a2a2a" textLength="75.5" lengthAdjust="spacingAndGlyphs"><tspan>120 μm</tspan></text>
<line x1="807.30" y1="778.60" x2="860.00" y2="778.60" stroke="#1fb08c" stroke-width="2.6"/>
<text x="866.50" y="785.30" font-size="21.5" font-weight="normal" text-anchor="start" fill="#2a2a2a" textLength="63" lengthAdjust="spacingAndGlyphs"><tspan>45 μm</tspan></text>
<line x1="807.30" y1="809.50" x2="860.00" y2="809.50" stroke="#2284e6" stroke-width="2.6"/>
<text x="866.50" y="816.70" font-size="21.5" font-weight="normal" text-anchor="start" fill="#2a2a2a" textLength="63" lengthAdjust="spacingAndGlyphs"><tspan>30 μm</tspan></text>
<polygon points="833.5,833.8 837.7,838 833.5,842.2 829.3,838" fill="#120808"/>
<text x="866.50" y="844.70" font-size="21.5" font-weight="normal" text-anchor="start" fill="#2a2a2a" textLength="105" lengthAdjust="spacingAndGlyphs"><tspan>V</tspan><tspan dy="7.00" font-size="17">e</tspan><tspan dy="-7.00"> = 0.1 V</tspan></text>
<text x="806.00" y="880.50" font-size="21.5" font-weight="normal" text-anchor="start" fill="#2a2a2a" textLength="358" lengthAdjust="spacingAndGlyphs"><tspan>σ</tspan><tspan dy="-13.00" font-size="13">'</tspan><tspan dy="20.00" font-size="17">e</tspan><tspan dy="-7.00">=kσ</tspan><tspan dy="7.00" font-size="17">e</tspan><tspan dy="-7.00">, k = 0.01,0.1,1,10 at each </tspan><tspan font-style="italic">P</tspan></text>
</svg></body></html>
